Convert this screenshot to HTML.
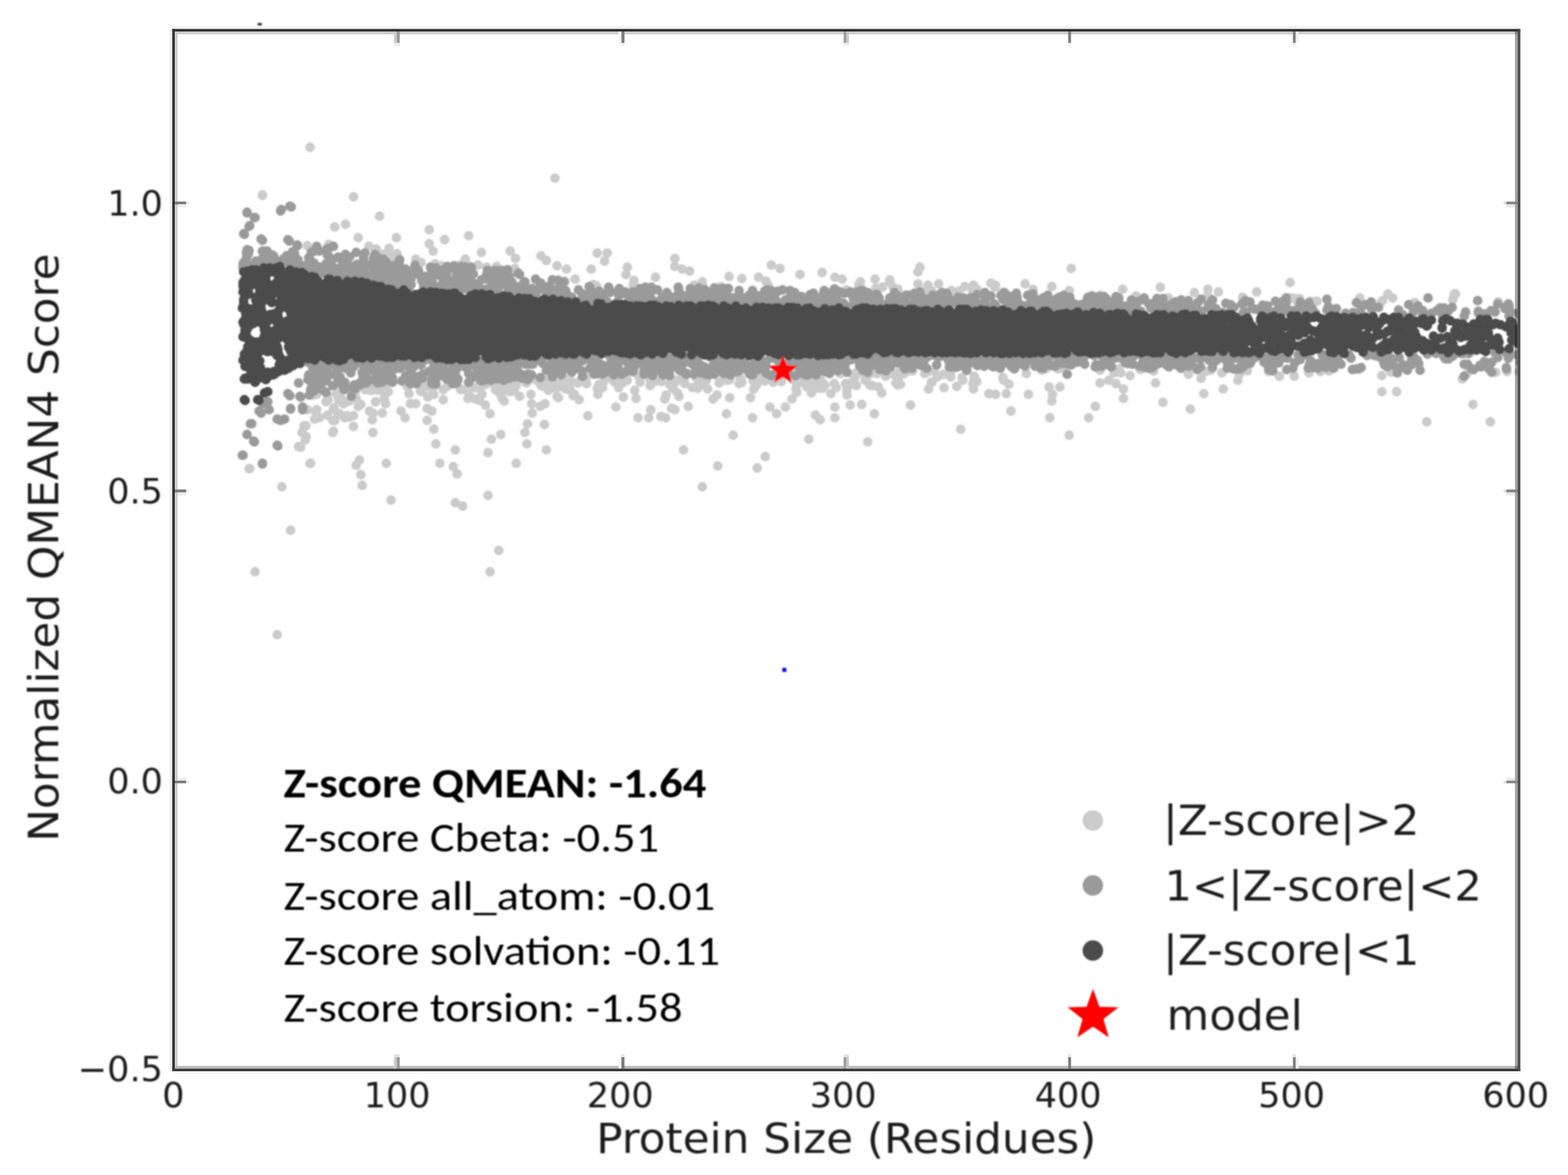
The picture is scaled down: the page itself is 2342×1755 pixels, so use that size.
<!DOCTYPE html>
<html lang="en">
<head>
<meta charset="utf-8">
<title>QMEAN4 score plot</title>
<style>
html,body{margin:0;padding:0;background:#fff;}
body{width:2342px;height:1755px;overflow:hidden;}
svg{display:block;}
</style>
</head>
<body>
<svg width="2342" height="1755" viewBox="0 0 2342 1755" role="img" aria-label="Normalized QMEAN4 score versus protein size">
<rect width="2342" height="1755" fill="#fff"/>
<defs><clipPath id="ax"><rect x="261" y="47" width="2006" height="1549"/></clipPath><filter id="b" filterUnits="userSpaceOnUse" x="0" y="0" width="2342" height="1755"><feGaussianBlur stdDeviation="1.0"/></filter></defs>
<g filter="url(#b)">
<g clip-path="url(#ax)" fill="none" stroke-linecap="round" stroke-width="14.4">
<path stroke="#cbcbcb" d="M459 367h0M459 612h0M468 590h0M470 626h0M473 589h0M477 624h0M487 600h0M489 590h0M489 620h0M490 597h0M491 365h0M503 588h0M505 618h0M506 597h0M507 618h0M508 585h0M508 584h0M510 596h0M511 600h0M513 603h0M515 624h0M515 602h0M521 623h0M521 582h0M522 599h0M528 621h0M530 594h0M532 583h0M532 595h0M535 607h0M546 582h0M551 580h0M551 368h0M553 580h0M552 614h0M553 583h0M556 583h0M557 617h0M561 600h0M562 372h0M564 579h0M565 583h0M566 579h0M570 583h0M572 380h0M574 595h0M575 577h0M576 603h0M576 583h0M580 585h0M581 371h0M585 383h0M593 379h0M599 614h0M607 575h0M609 578h0M611 588h0M613 603h0M621 387h0M621 573h0M621 603h0M628 584h0M629 392h0M630 585h0M634 575h0M637 577h0M639 593h0M638 610h0M643 579h0M645 614h0M647 577h0M648 589h0M650 394h0M659 397h0M662 582h0M662 597h0M668 577h0M687 396h0M688 581h0M688 582h0M695 387h0M697 583h0M698 396h0M698 581h0M699 595h0M701 591h0M701 581h0M709 579h0M710 596h0M713 579h0M712 579h0M714 396h0M716 598h0M720 589h0M723 575h0M725 605h0M727 399h0M728 573h0M740 582h0M741 575h0M742 398h0M744 577h0M744 585h0M748 589h0M750 595h0M753 599h0M754 582h0M759 571h0M762 585h0M765 573h0M767 576h0M768 584h0M769 572h0M769 401h0M771 576h0M776 592h0M786 572h0M793 589h0M799 567h0M803 569h0M806 571h0M807 607h0M808 576h0M812 577h0M814 603h0M818 566h0M819 583h0M819 575h0M820 566h0M824 580h0M827 571h0M832 592h0M833 575h0M834 578h0M834 418h0M834 594h0M839 571h0M843 568h0M843 565h0M844 569h0M844 420h0M845 581h0M852 583h0M854 570h0M856 591h0M859 417h0M858 589h0M863 572h0M865 597h0M868 567h0M869 569h0M876 573h0M877 562h0M886 425h0M891 427h0M892 580h0M893 589h0M895 574h0M896 581h0M900 579h0M901 571h0M908 564h0M913 565h0M917 570h0M917 566h0M919 566h0M924 579h0M927 564h0M930 572h0M931 593h0M937 568h0M946 426h0M947 419h0M948 583h0M950 595h0M954 561h0M954 562h0M956 571h0M956 562h0M956 562h0M972 574h0M971 567h0M971 576h0M972 566h0M975 564h0M978 570h0M988 570h0M993 596h0M995 590h0M1000 574h0M1001 562h0M1005 580h0M1007 573h0M1012 587h0M1012 568h0M1014 592h0M1017 566h0M1022 566h0M1023 573h0M1034 579h0M1037 426h0M1040 564h0M1042 580h0M1043 569h0M1047 575h0M1049 421h0M1050 428h0M1055 568h0M1057 581h0M1065 596h0M1071 590h0M1074 572h0M1075 571h0M1077 428h0M1082 567h0M1086 568h0M1090 567h0M1090 594h0M1104 573h0M1105 563h0M1107 567h0M1108 571h0M1121 594h0M1125 569h0M1126 581h0M1130 575h0M1131 564h0M1134 565h0M1140 564h0M1142 569h0M1142 562h0M1146 567h0M1147 425h0M1155 571h0M1159 568h0M1165 563h0M1167 570h0M1183 596h0M1183 566h0M1186 563h0M1188 567h0M1188 569h0M1189 581h0M1190 574h0M1190 586h0M1201 572h0M1201 565h0M1203 571h0M1202 567h0M1205 578h0M1206 565h0M1208 578h0M1210 565h0M1211 568h0M1211 568h0M1212 587h0M1216 570h0M1218 568h0M1219 561h0M1220 579h0M1222 563h0M1224 580h0M1224 569h0M1225 567h0M1227 569h0M1229 580h0M1232 575h0M1241 588h0M1246 573h0M1247 431h0M1249 579h0M1255 558h0M1264 433h0M1263 573h0M1265 581h0M1265 590h0M1265 583h0M1266 573h0M1275 561h0M1275 574h0M1276 566h0M1277 558h0M1278 561h0M1279 576h0M1283 425h0M1286 430h0M1289 557h0M1292 568h0M1295 562h0M1299 575h0M1300 558h0M1303 576h0M1308 431h0M1310 558h0M1312 578h0M1317 587h0M1318 429h0M1323 562h0M1329 421h0M1334 429h0M1335 559h0M1338 572h0M1339 434h0M1341 575h0M1341 434h0M1341 432h0M1342 568h0M1342 569h0M1344 555h0M1345 574h0M1347 557h0M1351 558h0M1362 554h0M1363 554h0M1381 558h0M1381 435h0M1385 556h0M1386 555h0M1387 581h0M1391 571h0M1391 434h0M1392 571h0M1395 554h0M1400 563h0M1410 579h0M1409 559h0M1420 563h0M1421 554h0M1421 434h0M1429 577h0M1432 435h0M1437 564h0M1438 568h0M1441 428h0M1453 573h0M1453 435h0M1455 566h0M1455 562h0M1459 432h0M1459 570h0M1480 423h0M1498 437h0M1498 564h0M1533 558h0M1543 432h0M1556 553h0M1562 551h0M1579 550h0M1581 551h0M1586 549h0M1597 434h0M1643 553h0M1644 441h0M1664 557h0M1671 551h0M1674 557h0M1688 561h0M1697 442h0M1703 552h0M1723 554h0M1745 445h0M1775 559h0M1800 555h0M1804 442h0M1804 448h0M1808 553h0M1820 436h0M1825 557h0M1851 559h0M1856 444h0M1858 447h0M1863 554h0M1877 436h0M1928 445h0M1934 446h0M1937 450h0M1941 446h0M1955 557h0M1958 450h0M1967 450h0M1972 555h0M1985 554h0M2031 445h0M2063 451h0M2064 561h0M2065 449h0M2078 556h0M2080 445h0M2113 452h0M2170 447h0M2172 439h0M2184 566h0M2191 558h0M2234 556h0M2238 451h0M2251 555h0M2269 555h0M2280 453h0M2281 454h0M463 220h0M829 266h0M392 292h0M528 294h0M567 323h0M500 339h0M516 335h0M641 343h0M700 352h0M592 355h0M664 358h0M535 355h0M719 377h0M762 375h0M808 382h0M892 378h0M641 364h0M647 375h0M770 386h0M816 389h0M832 397h0M846 402h0M883 402h0M372 700h0M463 692h0M421 727h0M434 792h0M381 854h0M414 948h0M537 687h0M532 695h0M539 709h0M541 725h0M577 692h0M584 747h0M657 692h0M651 663h0M680 672h0M677 697h0M683 708h0M680 751h0M691 756h0M729 740h0M729 676h0M734 656h0M748 649h0M771 692h0M787 663h0M816 672h0M813 634h0M784 646h0M788 633h0M795 617h0M794 603h0M732 618h0M878 621h0M745 822h0M732 854h0M648 641h0M638 628h0M605 624h0M556 627h0M557 646h0M571 617h0M528 637h0M518 621h0M498 611h0M500 628h0M498 644h0M471 614h0M457 636h0M451 646h0M456 657h0M446 667h0M539 604h0M505 592h0M920 608h0M953 624h0M969 624h0M972 612h0M987 622h0M994 624h0M1003 610h0M1008 612h0M1028 607h0M1085 618h0M1124 624h0M1150 608h0M1160 618h0M1173 608h0M1218 620h0M1225 627h0M1247 608h0M1247 624h0M1270 605h0M1287 604h0M1306 618h0M1360 605h0M1435 641h0M1095 650h0M1208 656h0M1296 660h0M1021 672h0M1143 682h0M1072 696h0M1131 699h0M1049 727h0M907 378h0M903 390h0M937 399h0M935 410h0M1008 386h0M1008 398h0M1019 402h0M1030 405h0M979 414h0M1152 396h0M1165 401h0M1228 407h0M1374 399h0M1371 406h0M1195 410h0M1108 416h0M1133 414h0M1144 420h0M1247 414h0M1258 417h0M1307 417h0M1285 421h0M1329 418h0M1371 424h0M1386 426h0M1402 424h0M1454 426h0M1486 429h0M1089 413h0M1600 401h0M1927 422h0M1531 424h0M1571 428h0M1487 426h0M1677 432h0M1733 429h0M1804 432h0M1784 437h0M1454 581h0M1477 588h0M1487 589h0M1503 588h0M1536 589h0M1499 568h0M1507 574h0M1567 578h0M1583 578h0M1572 589h0M1571 599h0M1510 614h0M1568 624h0M1636 607h0M1626 624h0M1597 650h0M1643 572h0M1656 568h0M1667 573h0M1678 581h0M1678 595h0M1726 572h0M1737 601h0M1778 611h0M1794 565h0M1798 588h0M1827 581h0M1849 568h0M1895 555h0M1911 562h0M1933 562h0M2073 439h0M2174 439h0M2064 585h0M2086 585h0M2200 604h0M2131 630h0M2226 630h0M392 291h0M373 700h0M464 692h0M449 668h0M457 652h0M454 636h0M473 612h0M499 609h0M497 628h0M497 646h0M507 591h0"/>
<path stroke="#9a9a9a" d="M363 400h0M364 392h0M363 394h0M364 397h0M364 399h0M368 396h0M368 386h0M368 378h0M369 373h0M371 379h0M372 374h0M372 397h0M374 398h0M382 390h0M382 393h0M391 397h0M391 387h0M392 375h0M393 388h0M395 378h0M396 393h0M397 396h0M399 389h0M399 375h0M406 385h0M407 394h0M407 381h0M409 383h0M410 391h0M411 391h0M413 390h0M423 387h0M424 391h0M428 382h0M431 392h0M432 384h0M437 396h0M438 388h0M437 376h0M440 382h0M440 379h0M443 400h0M445 400h0M445 388h0M447 402h0M453 404h0M455 397h0M457 398h0M460 398h0M461 560h0M460 541h0M462 402h0M462 400h0M461 385h0M463 566h0M462 590h0M464 406h0M463 388h0M465 377h0M464 582h0M465 543h0M466 577h0M468 394h0M468 399h0M468 585h0M467 542h0M467 549h0M468 544h0M469 393h0M470 375h0M470 395h0M470 375h0M471 548h0M470 542h0M471 570h0M472 543h0M473 368h0M472 561h0M474 402h0M473 550h0M474 556h0M474 373h0M474 567h0M475 556h0M475 561h0M476 556h0M477 549h0M476 558h0M477 544h0M477 375h0M478 574h0M479 581h0M480 408h0M479 399h0M480 572h0M479 550h0M480 400h0M480 552h0M481 582h0M482 407h0M482 568h0M482 554h0M484 404h0M483 549h0M484 541h0M484 401h0M484 560h0M487 394h0M487 586h0M486 560h0M487 569h0M488 372h0M487 407h0M487 403h0M487 547h0M488 562h0M488 402h0M489 402h0M489 405h0M489 381h0M489 563h0M491 371h0M491 409h0M491 546h0M491 558h0M492 384h0M492 412h0M493 395h0M492 543h0M493 559h0M493 397h0M495 391h0M495 543h0M497 576h0M498 368h0M497 399h0M497 542h0M499 408h0M500 404h0M500 541h0M501 403h0M500 407h0M502 561h0M501 558h0M502 412h0M503 410h0M503 554h0M504 413h0M505 413h0M505 385h0M504 542h0M506 406h0M505 384h0M505 567h0M506 401h0M507 540h0M507 544h0M507 568h0M506 572h0M509 403h0M509 573h0M508 563h0M508 568h0M509 549h0M510 415h0M511 407h0M510 546h0M512 395h0M511 399h0M514 408h0M515 413h0M514 549h0M515 571h0M514 582h0M516 415h0M515 391h0M515 577h0M516 550h0M516 380h0M516 412h0M518 388h0M519 407h0M518 412h0M519 415h0M518 408h0M518 544h0M520 546h0M520 400h0M520 539h0M522 384h0M524 557h0M525 411h0M524 398h0M526 544h0M527 414h0M528 410h0M528 548h0M529 543h0M528 548h0M529 575h0M530 415h0M530 414h0M529 410h0M530 581h0M531 405h0M533 395h0M532 377h0M535 400h0M536 411h0M536 405h0M537 540h0M537 407h0M537 572h0M538 414h0M538 401h0M538 575h0M540 543h0M541 414h0M542 561h0M541 556h0M543 414h0M543 386h0M543 406h0M543 391h0M543 558h0M544 418h0M544 394h0M545 378h0M545 550h0M547 572h0M547 542h0M547 548h0M549 412h0M548 539h0M550 396h0M549 414h0M550 540h0M550 548h0M550 411h0M551 554h0M552 538h0M552 568h0M552 414h0M553 543h0M554 545h0M554 415h0M555 416h0M556 416h0M555 545h0M557 547h0M558 386h0M559 397h0M559 394h0M559 416h0M558 401h0M560 380h0M560 415h0M562 392h0M561 537h0M562 562h0M562 421h0M562 548h0M562 551h0M564 385h0M564 391h0M564 572h0M566 417h0M565 560h0M565 559h0M566 558h0M567 420h0M567 410h0M566 402h0M566 422h0M566 539h0M566 543h0M569 537h0M569 553h0M570 420h0M570 563h0M569 543h0M570 571h0M570 551h0M570 538h0M572 387h0M572 390h0M573 418h0M573 545h0M573 550h0M574 402h0M574 417h0M573 411h0M574 418h0M574 547h0M574 561h0M574 569h0M575 541h0M575 409h0M575 407h0M575 390h0M576 538h0M576 536h0M577 392h0M577 424h0M576 560h0M577 401h0M577 541h0M578 399h0M579 548h0M579 422h0M579 543h0M580 541h0M581 538h0M581 424h0M582 419h0M582 426h0M583 409h0M584 536h0M583 545h0M584 550h0M585 411h0M586 564h0M586 420h0M587 420h0M586 571h0M587 397h0M589 405h0M589 550h0M589 544h0M589 551h0M590 542h0M589 537h0M590 427h0M590 551h0M590 542h0M591 400h0M591 396h0M591 539h0M592 417h0M593 541h0M594 426h0M594 427h0M594 409h0M595 548h0M595 536h0M596 394h0M596 394h0M597 388h0M597 398h0M596 424h0M596 547h0M597 550h0M597 427h0M597 414h0M598 535h0M599 408h0M598 537h0M599 548h0M600 569h0M601 412h0M600 542h0M601 545h0M601 547h0M603 409h0M603 420h0M604 429h0M606 427h0M606 428h0M606 404h0M606 402h0M606 561h0M609 535h0M608 537h0M609 563h0M611 430h0M612 422h0M612 406h0M612 563h0M612 540h0M612 421h0M612 425h0M613 406h0M613 573h0M613 550h0M613 410h0M613 536h0M614 416h0M614 425h0M615 571h0M615 542h0M617 561h0M618 404h0M618 548h0M620 396h0M621 536h0M622 406h0M622 573h0M624 407h0M623 567h0M625 536h0M624 563h0M626 410h0M625 404h0M626 540h0M627 411h0M627 537h0M630 419h0M629 545h0M631 538h0M631 559h0M631 565h0M633 421h0M633 416h0M633 428h0M635 413h0M634 430h0M635 430h0M635 427h0M636 537h0M636 418h0M638 416h0M638 430h0M638 430h0M640 555h0M641 413h0M642 413h0M643 399h0M644 408h0M644 556h0M644 557h0M645 554h0M645 538h0M646 422h0M645 566h0M645 573h0M647 424h0M648 548h0M648 558h0M648 410h0M649 545h0M649 544h0M650 427h0M652 410h0M652 402h0M651 400h0M651 574h0M651 542h0M653 549h0M653 564h0M655 549h0M657 540h0M658 412h0M659 539h0M659 558h0M658 545h0M660 413h0M662 420h0M661 548h0M662 429h0M662 403h0M663 426h0M663 538h0M665 554h0M667 566h0M666 555h0M667 410h0M668 398h0M669 540h0M668 539h0M670 556h0M669 556h0M671 426h0M672 420h0M672 434h0M674 423h0M674 562h0M673 557h0M673 539h0M674 427h0M676 433h0M676 573h0M676 542h0M677 547h0M677 401h0M678 419h0M678 397h0M678 573h0M680 556h0M679 561h0M680 421h0M681 421h0M681 539h0M682 410h0M682 548h0M682 572h0M682 566h0M682 542h0M682 413h0M682 540h0M683 432h0M683 432h0M683 566h0M684 566h0M684 542h0M684 407h0M685 422h0M684 549h0M684 567h0M685 400h0M685 423h0M686 539h0M687 539h0M687 402h0M688 430h0M688 543h0M689 398h0M690 425h0M689 431h0M690 422h0M691 421h0M691 541h0M692 428h0M692 431h0M692 413h0M695 399h0M697 431h0M697 431h0M696 425h0M697 550h0M699 416h0M699 541h0M698 549h0M699 432h0M700 401h0M700 412h0M700 558h0M700 571h0M701 543h0M703 418h0M703 430h0M703 566h0M704 433h0M704 399h0M704 539h0M705 407h0M705 543h0M707 425h0M707 409h0M707 423h0M707 540h0M708 541h0M709 427h0M710 434h0M709 546h0M711 562h0M711 539h0M713 552h0M714 554h0M716 435h0M716 554h0M716 430h0M716 539h0M717 567h0M719 418h0M720 569h0M719 547h0M721 559h0M720 547h0M722 435h0M724 563h0M724 568h0M726 432h0M727 410h0M727 539h0M726 540h0M728 559h0M728 404h0M728 553h0M730 411h0M729 546h0M729 538h0M730 418h0M730 538h0M731 552h0M731 556h0M733 411h0M734 430h0M734 553h0M733 568h0M735 436h0M735 565h0M735 540h0M738 404h0M737 548h0M741 432h0M741 404h0M741 560h0M742 566h0M741 541h0M742 550h0M741 540h0M742 419h0M743 424h0M744 416h0M743 409h0M744 436h0M745 428h0M744 545h0M746 544h0M748 425h0M748 420h0M750 404h0M751 425h0M751 549h0M751 417h0M752 538h0M751 539h0M752 560h0M752 568h0M752 548h0M754 548h0M753 540h0M755 424h0M755 540h0M754 535h0M754 567h0M756 537h0M757 423h0M756 554h0M757 543h0M757 536h0M758 403h0M758 426h0M758 546h0M759 430h0M758 406h0M759 538h0M759 535h0M759 431h0M759 423h0M761 565h0M761 413h0M763 428h0M764 542h0M765 422h0M764 429h0M765 424h0M764 550h0M764 553h0M766 542h0M767 426h0M768 439h0M769 436h0M770 538h0M769 563h0M771 429h0M771 539h0M770 542h0M772 439h0M773 553h0M774 534h0M773 557h0M774 408h0M775 537h0M774 538h0M775 538h0M776 439h0M776 441h0M776 410h0M777 542h0M776 541h0M778 535h0M778 433h0M779 433h0M779 565h0M781 424h0M781 560h0M781 535h0M781 425h0M783 428h0M784 421h0M784 564h0M784 423h0M785 544h0M788 442h0M788 567h0M790 437h0M789 441h0M790 438h0M789 562h0M789 559h0M789 544h0M789 539h0M792 433h0M792 432h0M792 544h0M792 540h0M793 442h0M794 539h0M794 560h0M795 431h0M795 435h0M796 544h0M798 538h0M798 538h0M798 533h0M800 417h0M800 442h0M801 436h0M803 433h0M804 537h0M807 426h0M807 564h0M808 423h0M807 532h0M811 543h0M812 432h0M811 432h0M812 533h0M816 442h0M815 436h0M816 444h0M816 553h0M817 547h0M819 441h0M819 441h0M818 553h0M819 429h0M821 435h0M821 427h0M822 532h0M822 436h0M823 443h0M825 563h0M825 557h0M825 418h0M825 540h0M826 532h0M826 547h0M828 445h0M827 534h0M828 535h0M828 541h0M829 548h0M830 555h0M831 444h0M833 439h0M833 419h0M834 431h0M836 432h0M836 429h0M836 442h0M835 538h0M836 531h0M837 430h0M838 445h0M839 549h0M838 560h0M840 554h0M840 541h0M840 436h0M840 425h0M840 532h0M840 534h0M842 445h0M842 421h0M842 549h0M842 543h0M843 549h0M842 538h0M844 442h0M844 533h0M843 542h0M845 444h0M844 537h0M845 442h0M845 434h0M846 531h0M846 532h0M846 533h0M846 531h0M847 440h0M847 548h0M849 539h0M851 551h0M851 545h0M853 444h0M854 444h0M854 556h0M855 535h0M855 539h0M858 532h0M861 550h0M862 544h0M864 537h0M864 532h0M864 433h0M868 531h0M869 554h0M869 533h0M870 439h0M870 441h0M870 539h0M870 562h0M870 445h0M872 534h0M871 531h0M872 532h0M873 534h0M874 446h0M876 449h0M878 440h0M878 536h0M878 530h0M880 449h0M881 449h0M880 428h0M881 445h0M882 432h0M881 429h0M882 549h0M881 550h0M883 531h0M884 437h0M885 449h0M885 539h0M885 531h0M886 538h0M887 556h0M886 551h0M888 448h0M888 544h0M888 543h0M888 559h0M890 444h0M890 558h0M889 531h0M892 550h0M891 534h0M892 447h0M893 542h0M893 558h0M893 550h0M893 532h0M894 530h0M895 435h0M895 531h0M897 544h0M898 445h0M900 559h0M902 447h0M901 556h0M901 546h0M903 551h0M905 556h0M907 451h0M908 436h0M909 429h0M910 546h0M910 531h0M911 437h0M912 435h0M914 553h0M913 540h0M914 530h0M914 532h0M916 530h0M917 560h0M918 531h0M919 547h0M920 553h0M922 534h0M922 535h0M922 545h0M923 451h0M922 534h0M924 440h0M923 450h0M923 548h0M925 431h0M926 535h0M926 531h0M927 537h0M927 435h0M927 539h0M928 439h0M929 559h0M929 531h0M934 538h0M934 436h0M935 555h0M935 535h0M935 533h0M936 531h0M937 440h0M936 532h0M937 531h0M938 531h0M938 531h0M938 534h0M939 544h0M940 440h0M939 545h0M940 447h0M942 447h0M942 554h0M943 437h0M943 444h0M945 451h0M944 549h0M945 555h0M945 436h0M946 445h0M947 549h0M948 537h0M949 544h0M950 541h0M951 531h0M953 533h0M955 541h0M956 436h0M956 431h0M955 445h0M957 451h0M957 442h0M958 541h0M958 539h0M960 540h0M960 544h0M961 442h0M961 444h0M962 559h0M962 452h0M963 452h0M963 544h0M962 553h0M964 432h0M964 429h0M964 532h0M964 437h0M965 532h0M965 533h0M968 437h0M969 554h0M969 550h0M969 533h0M969 541h0M972 445h0M972 431h0M973 532h0M972 546h0M973 432h0M973 429h0M974 434h0M975 561h0M978 532h0M977 535h0M977 540h0M979 534h0M980 552h0M980 536h0M980 543h0M981 451h0M981 551h0M982 538h0M982 433h0M982 535h0M982 541h0M984 452h0M985 553h0M987 548h0M989 452h0M989 446h0M989 444h0M990 556h0M990 560h0M990 449h0M991 551h0M992 446h0M992 452h0M993 447h0M995 543h0M994 541h0M996 437h0M996 446h0M996 452h0M995 554h0M997 447h0M996 557h0M996 545h0M996 532h0M997 545h0M999 451h0M999 447h0M999 445h0M1000 538h0M999 558h0M1001 444h0M1000 561h0M1000 553h0M1002 543h0M1003 534h0M1006 537h0M1006 452h0M1007 444h0M1007 545h0M1009 532h0M1008 547h0M1009 533h0M1011 450h0M1011 448h0M1012 450h0M1011 447h0M1011 535h0M1013 429h0M1014 548h0M1014 434h0M1015 440h0M1015 553h0M1017 450h0M1019 452h0M1019 554h0M1019 443h0M1020 555h0M1019 545h0M1021 449h0M1023 442h0M1024 534h0M1025 559h0M1026 535h0M1026 558h0M1029 448h0M1028 540h0M1029 540h0M1029 532h0M1031 448h0M1030 453h0M1031 533h0M1031 431h0M1032 449h0M1033 543h0M1034 443h0M1033 435h0M1034 452h0M1035 539h0M1036 559h0M1038 453h0M1037 535h0M1040 438h0M1040 447h0M1039 551h0M1040 437h0M1041 445h0M1040 550h0M1041 533h0M1041 554h0M1042 545h0M1043 532h0M1044 445h0M1044 430h0M1044 441h0M1043 452h0M1043 542h0M1045 434h0M1046 550h0M1047 453h0M1047 550h0M1047 557h0M1047 546h0M1049 438h0M1049 439h0M1050 450h0M1052 439h0M1053 433h0M1052 445h0M1052 548h0M1053 448h0M1054 442h0M1054 559h0M1056 552h0M1056 439h0M1058 444h0M1057 555h0M1059 560h0M1060 452h0M1061 438h0M1060 533h0M1062 444h0M1061 556h0M1065 447h0M1065 546h0M1067 444h0M1067 430h0M1067 559h0M1068 452h0M1068 535h0M1071 452h0M1072 552h0M1073 547h0M1074 432h0M1075 440h0M1075 552h0M1076 452h0M1077 542h0M1078 537h0M1079 555h0M1080 431h0M1081 435h0M1081 558h0M1080 534h0M1082 447h0M1082 447h0M1082 540h0M1084 538h0M1084 540h0M1085 533h0M1086 431h0M1086 548h0M1088 431h0M1089 557h0M1089 533h0M1089 444h0M1089 450h0M1091 450h0M1092 449h0M1092 541h0M1091 560h0M1093 454h0M1094 548h0M1093 551h0M1095 445h0M1095 539h0M1096 554h0M1098 446h0M1098 445h0M1099 542h0M1101 533h0M1103 443h0M1102 555h0M1104 450h0M1104 443h0M1104 552h0M1104 434h0M1104 535h0M1108 451h0M1108 550h0M1108 454h0M1110 548h0M1112 538h0M1111 538h0M1113 445h0M1114 454h0M1113 544h0M1114 549h0M1114 551h0M1116 553h0M1119 448h0M1119 441h0M1120 559h0M1123 452h0M1122 551h0M1124 434h0M1124 560h0M1125 452h0M1124 450h0M1126 543h0M1128 553h0M1128 550h0M1130 540h0M1131 455h0M1132 442h0M1133 535h0M1133 552h0M1134 452h0M1134 450h0M1135 535h0M1136 549h0M1137 448h0M1139 443h0M1139 452h0M1142 435h0M1142 547h0M1142 436h0M1142 552h0M1143 545h0M1144 439h0M1144 547h0M1145 558h0M1146 433h0M1149 536h0M1149 446h0M1151 533h0M1150 560h0M1151 447h0M1152 434h0M1152 561h0M1152 533h0M1154 451h0M1155 448h0M1155 534h0M1157 559h0M1157 452h0M1157 559h0M1158 439h0M1160 450h0M1160 533h0M1160 533h0M1160 537h0M1162 435h0M1161 535h0M1162 550h0M1162 455h0M1163 534h0M1163 533h0M1164 453h0M1165 552h0M1165 545h0M1166 555h0M1167 545h0M1167 557h0M1169 433h0M1173 448h0M1174 455h0M1174 454h0M1175 559h0M1177 453h0M1178 446h0M1178 559h0M1177 560h0M1179 540h0M1178 550h0M1179 446h0M1180 537h0M1180 434h0M1181 534h0M1182 444h0M1183 543h0M1185 538h0M1187 437h0M1186 535h0M1187 455h0M1188 539h0M1188 535h0M1188 445h0M1188 452h0M1189 545h0M1188 561h0M1190 534h0M1192 558h0M1193 538h0M1194 443h0M1195 534h0M1194 549h0M1195 535h0M1197 443h0M1197 443h0M1196 543h0M1197 551h0M1199 456h0M1199 553h0M1199 457h0M1202 456h0M1202 538h0M1202 540h0M1203 560h0M1203 542h0M1204 533h0M1205 533h0M1206 450h0M1207 541h0M1206 549h0M1208 457h0M1208 533h0M1207 560h0M1207 540h0M1208 537h0M1209 537h0M1210 440h0M1209 538h0M1211 450h0M1211 554h0M1212 444h0M1212 536h0M1212 538h0M1211 534h0M1213 550h0M1214 557h0M1215 438h0M1216 447h0M1216 450h0M1216 533h0M1216 449h0M1217 455h0M1218 451h0M1218 452h0M1218 533h0M1218 558h0M1218 537h0M1219 560h0M1219 446h0M1222 457h0M1222 541h0M1222 555h0M1223 533h0M1224 543h0M1225 534h0M1228 536h0M1228 456h0M1229 441h0M1228 534h0M1229 541h0M1230 446h0M1230 456h0M1231 452h0M1230 457h0M1231 434h0M1231 537h0M1232 555h0M1233 451h0M1234 549h0M1236 451h0M1235 533h0M1236 446h0M1237 543h0M1239 554h0M1240 454h0M1239 438h0M1239 546h0M1239 558h0M1240 454h0M1241 542h0M1241 534h0M1243 542h0M1243 535h0M1243 444h0M1243 448h0M1244 443h0M1245 545h0M1246 432h0M1245 532h0M1247 534h0M1246 540h0M1247 436h0M1248 445h0M1249 434h0M1249 443h0M1250 452h0M1251 551h0M1251 534h0M1251 554h0M1253 540h0M1253 457h0M1254 537h0M1255 436h0M1256 452h0M1259 457h0M1258 457h0M1258 456h0M1259 532h0M1258 533h0M1260 453h0M1259 532h0M1261 543h0M1261 438h0M1262 546h0M1262 531h0M1262 537h0M1263 536h0M1264 534h0M1265 536h0M1265 556h0M1268 538h0M1270 436h0M1270 533h0M1272 440h0M1272 457h0M1272 537h0M1275 447h0M1277 448h0M1279 436h0M1280 451h0M1282 533h0M1283 532h0M1284 453h0M1284 547h0M1284 444h0M1285 537h0M1284 543h0M1286 536h0M1286 434h0M1288 436h0M1288 440h0M1289 553h0M1290 435h0M1290 531h0M1290 537h0M1291 452h0M1292 543h0M1293 445h0M1293 541h0M1292 543h0M1293 458h0M1294 540h0M1295 531h0M1295 540h0M1296 437h0M1296 443h0M1296 556h0M1298 541h0M1301 456h0M1300 453h0M1300 442h0M1300 445h0M1301 547h0M1303 537h0M1307 446h0M1308 456h0M1308 440h0M1310 440h0M1311 457h0M1311 530h0M1312 454h0M1312 534h0M1312 444h0M1313 445h0M1314 552h0M1314 458h0M1315 457h0M1314 533h0M1314 543h0M1316 530h0M1320 541h0M1321 543h0M1322 457h0M1323 457h0M1323 554h0M1323 455h0M1323 530h0M1325 551h0M1324 530h0M1324 530h0M1326 457h0M1325 546h0M1326 536h0M1326 550h0M1327 532h0M1328 538h0M1329 445h0M1329 531h0M1330 548h0M1332 539h0M1332 450h0M1332 457h0M1334 444h0M1334 452h0M1334 531h0M1334 457h0M1334 445h0M1336 437h0M1336 532h0M1337 458h0M1337 448h0M1339 533h0M1340 442h0M1339 538h0M1341 452h0M1341 530h0M1342 452h0M1342 538h0M1341 542h0M1343 457h0M1343 457h0M1342 535h0M1345 457h0M1346 533h0M1347 455h0M1348 528h0M1350 533h0M1349 531h0M1351 550h0M1350 533h0M1352 455h0M1351 539h0M1352 445h0M1352 551h0M1353 533h0M1353 538h0M1352 539h0M1353 441h0M1356 537h0M1358 456h0M1358 441h0M1359 545h0M1359 533h0M1362 528h0M1362 442h0M1362 550h0M1362 537h0M1364 458h0M1366 542h0M1365 531h0M1367 450h0M1366 438h0M1368 458h0M1367 538h0M1367 541h0M1368 457h0M1371 457h0M1371 529h0M1372 446h0M1372 544h0M1373 537h0M1374 436h0M1375 456h0M1376 546h0M1377 454h0M1376 529h0M1381 446h0M1380 453h0M1381 537h0M1382 456h0M1383 535h0M1384 449h0M1384 449h0M1383 448h0M1384 550h0M1387 531h0M1388 457h0M1389 448h0M1390 447h0M1389 531h0M1393 441h0M1394 447h0M1395 529h0M1397 454h0M1397 449h0M1396 530h0M1397 529h0M1398 458h0M1397 531h0M1399 545h0M1399 529h0M1400 451h0M1400 458h0M1402 529h0M1403 440h0M1403 533h0M1404 451h0M1404 449h0M1406 532h0M1407 437h0M1408 439h0M1408 451h0M1409 446h0M1410 459h0M1410 443h0M1412 455h0M1412 455h0M1413 529h0M1414 448h0M1414 438h0M1415 457h0M1416 530h0M1416 443h0M1417 539h0M1418 458h0M1418 548h0M1419 547h0M1420 540h0M1420 530h0M1422 449h0M1423 529h0M1423 539h0M1424 548h0M1425 449h0M1428 548h0M1429 529h0M1428 540h0M1430 529h0M1431 444h0M1430 548h0M1431 540h0M1431 448h0M1431 538h0M1432 536h0M1432 455h0M1434 454h0M1433 530h0M1436 546h0M1439 445h0M1440 457h0M1441 459h0M1443 544h0M1444 530h0M1444 543h0M1444 553h0M1444 537h0M1446 455h0M1446 454h0M1446 537h0M1446 536h0M1447 453h0M1448 537h0M1449 445h0M1448 543h0M1449 456h0M1449 458h0M1450 448h0M1450 459h0M1451 538h0M1453 448h0M1455 444h0M1455 534h0M1455 538h0M1455 532h0M1455 530h0M1460 440h0M1459 458h0M1459 544h0M1460 529h0M1461 454h0M1460 546h0M1460 541h0M1461 459h0M1464 541h0M1467 541h0M1469 531h0M1469 458h0M1470 455h0M1470 547h0M1471 437h0M1471 449h0M1472 441h0M1474 539h0M1475 458h0M1475 533h0M1476 458h0M1476 535h0M1480 442h0M1479 442h0M1479 459h0M1480 543h0M1480 530h0M1481 538h0M1482 547h0M1484 459h0M1483 541h0M1484 548h0M1484 529h0M1484 536h0M1485 540h0M1484 535h0M1485 454h0M1486 538h0M1487 545h0M1488 541h0M1488 458h0M1489 529h0M1492 542h0M1494 550h0M1495 441h0M1495 544h0M1495 535h0M1496 545h0M1499 448h0M1498 447h0M1499 447h0M1500 437h0M1501 539h0M1501 530h0M1501 536h0M1501 538h0M1504 442h0M1505 459h0M1506 442h0M1508 450h0M1509 545h0M1510 544h0M1512 457h0M1511 456h0M1511 548h0M1513 450h0M1513 454h0M1513 541h0M1513 549h0M1515 460h0M1514 460h0M1515 536h0M1515 445h0M1515 459h0M1515 551h0M1515 531h0M1518 438h0M1519 444h0M1520 531h0M1521 544h0M1522 530h0M1523 454h0M1528 461h0M1530 535h0M1532 457h0M1531 547h0M1533 458h0M1535 441h0M1535 539h0M1538 454h0M1539 460h0M1540 456h0M1539 459h0M1541 531h0M1540 534h0M1542 531h0M1543 439h0M1544 453h0M1544 531h0M1544 535h0M1545 461h0M1544 454h0M1544 538h0M1545 533h0M1545 453h0M1545 534h0M1546 547h0M1547 460h0M1547 447h0M1548 459h0M1548 531h0M1548 460h0M1549 546h0M1550 461h0M1551 544h0M1552 462h0M1553 549h0M1555 459h0M1556 530h0M1556 455h0M1558 445h0M1558 542h0M1558 550h0M1560 456h0M1561 457h0M1563 454h0M1563 461h0M1563 455h0M1564 461h0M1564 461h0M1564 462h0M1564 530h0M1565 531h0M1565 441h0M1565 539h0M1567 543h0M1568 532h0M1569 459h0M1570 546h0M1570 457h0M1570 449h0M1570 546h0M1571 454h0M1572 530h0M1572 453h0M1572 457h0M1572 462h0M1576 547h0M1578 460h0M1579 461h0M1580 452h0M1579 446h0M1580 542h0M1581 535h0M1581 537h0M1582 444h0M1584 458h0M1583 531h0M1584 448h0M1587 463h0M1587 543h0M1588 463h0M1589 448h0M1588 462h0M1588 462h0M1589 531h0M1589 540h0M1589 441h0M1590 535h0M1593 457h0M1593 536h0M1595 530h0M1594 530h0M1594 530h0M1595 544h0M1594 531h0M1596 451h0M1596 460h0M1596 461h0M1598 444h0M1598 539h0M1598 534h0M1599 463h0M1600 462h0M1600 545h0M1601 463h0M1601 460h0M1601 531h0M1605 455h0M1605 454h0M1606 463h0M1607 532h0M1609 541h0M1613 464h0M1615 455h0M1620 461h0M1619 533h0M1620 544h0M1624 446h0M1625 444h0M1628 455h0M1628 463h0M1629 451h0M1628 457h0M1631 461h0M1631 442h0M1633 462h0M1633 444h0M1634 531h0M1635 451h0M1636 548h0M1637 456h0M1637 545h0M1638 545h0M1639 463h0M1640 545h0M1641 464h0M1642 450h0M1641 443h0M1643 445h0M1642 547h0M1644 461h0M1644 446h0M1644 547h0M1645 531h0M1646 547h0M1647 530h0M1648 448h0M1649 443h0M1651 532h0M1651 531h0M1650 536h0M1652 446h0M1652 460h0M1653 457h0M1654 464h0M1655 459h0M1655 460h0M1655 540h0M1657 458h0M1657 546h0M1657 459h0M1659 457h0M1658 451h0M1659 545h0M1660 548h0M1660 463h0M1665 535h0M1667 464h0M1667 460h0M1667 443h0M1669 450h0M1670 530h0M1671 445h0M1670 464h0M1671 453h0M1672 534h0M1674 459h0M1676 460h0M1675 456h0M1675 459h0M1677 537h0M1679 536h0M1680 464h0M1681 530h0M1681 530h0M1681 542h0M1682 530h0M1684 457h0M1685 543h0M1688 464h0M1687 540h0M1690 541h0M1691 455h0M1690 448h0M1692 464h0M1692 544h0M1692 463h0M1693 532h0M1692 544h0M1694 464h0M1694 530h0M1695 530h0M1695 530h0M1697 459h0M1697 451h0M1698 452h0M1698 465h0M1702 547h0M1704 530h0M1704 465h0M1705 448h0M1707 541h0M1709 445h0M1708 542h0M1710 535h0M1710 549h0M1711 536h0M1711 541h0M1714 530h0M1714 533h0M1715 531h0M1716 454h0M1716 550h0M1718 454h0M1717 535h0M1718 530h0M1719 460h0M1721 549h0M1721 534h0M1722 534h0M1723 453h0M1724 530h0M1724 462h0M1725 454h0M1725 461h0M1726 545h0M1728 446h0M1729 541h0M1731 543h0M1732 447h0M1731 532h0M1731 535h0M1733 537h0M1733 459h0M1736 540h0M1737 446h0M1740 530h0M1741 531h0M1743 457h0M1742 545h0M1744 458h0M1744 530h0M1745 530h0M1746 547h0M1747 541h0M1746 548h0M1746 530h0M1748 536h0M1750 458h0M1749 461h0M1751 530h0M1752 453h0M1751 463h0M1752 530h0M1751 544h0M1756 465h0M1756 451h0M1757 531h0M1759 546h0M1760 460h0M1761 541h0M1761 542h0M1761 463h0M1762 530h0M1761 534h0M1762 533h0M1763 548h0M1763 530h0M1764 459h0M1764 448h0M1764 550h0M1765 549h0M1765 534h0M1767 465h0M1768 534h0M1768 455h0M1768 547h0M1769 543h0M1768 540h0M1770 542h0M1773 453h0M1772 463h0M1773 463h0M1775 466h0M1775 449h0M1775 464h0M1775 465h0M1775 530h0M1777 463h0M1776 547h0M1780 543h0M1781 459h0M1782 464h0M1782 535h0M1784 535h0M1788 552h0M1789 452h0M1792 465h0M1794 447h0M1793 536h0M1793 548h0M1794 530h0M1793 533h0M1795 465h0M1795 530h0M1795 530h0M1806 460h0M1805 456h0M1806 538h0M1807 454h0M1810 467h0M1809 530h0M1810 530h0M1811 448h0M1811 549h0M1814 535h0M1816 461h0M1816 539h0M1817 538h0M1817 465h0M1823 533h0M1826 467h0M1830 537h0M1830 532h0M1831 453h0M1831 535h0M1832 530h0M1833 550h0M1834 531h0M1834 544h0M1838 466h0M1838 455h0M1839 463h0M1839 538h0M1842 551h0M1843 459h0M1847 551h0M1847 533h0M1847 534h0M1849 533h0M1849 532h0M1850 551h0M1853 551h0M1853 538h0M1855 454h0M1857 548h0M1857 467h0M1860 449h0M1860 531h0M1861 466h0M1863 451h0M1864 542h0M1867 537h0M1867 451h0M1867 543h0M1869 539h0M1869 530h0M1871 461h0M1876 462h0M1877 533h0M1881 463h0M1884 461h0M1884 461h0M1886 456h0M1888 541h0M1890 533h0M1891 543h0M1894 468h0M1893 457h0M1893 536h0M1894 464h0M1895 464h0M1895 552h0M1896 468h0M1897 468h0M1897 544h0M1899 535h0M1900 537h0M1899 531h0M1901 554h0M1902 545h0M1905 450h0M1907 464h0M1910 542h0M1910 538h0M1911 465h0M1913 455h0M1914 462h0M1916 450h0M1917 531h0M1918 465h0M1918 531h0M1918 531h0M1918 534h0M1919 529h0M1921 452h0M1923 535h0M1922 552h0M1925 466h0M1928 464h0M1931 550h0M1934 542h0M1939 461h0M1939 530h0M1942 451h0M1943 468h0M1942 537h0M1947 465h0M1946 529h0M1951 530h0M1953 468h0M1953 459h0M1953 458h0M1954 550h0M1956 462h0M1955 452h0M1956 544h0M1958 539h0M1960 469h0M1960 466h0M1960 461h0M1962 549h0M1965 468h0M1969 550h0M1969 543h0M1975 530h0M1975 544h0M1978 530h0M1980 549h0M1982 463h0M1983 532h0M1984 458h0M1984 543h0M1985 462h0M1987 530h0M1987 542h0M1987 546h0M1990 540h0M1991 529h0M1992 550h0M1996 461h0M1996 534h0M1999 531h0M2001 542h0M2003 544h0M2010 469h0M2010 468h0M2011 529h0M2015 530h0M2018 535h0M2020 552h0M2021 467h0M2026 452h0M2026 551h0M2030 551h0M2032 465h0M2032 464h0M2033 549h0M2039 455h0M2042 531h0M2043 530h0M2048 451h0M2047 529h0M2048 460h0M2049 462h0M2049 460h0M2050 529h0M2053 531h0M2059 459h0M2060 533h0M2067 542h0M2068 545h0M2072 548h0M2073 530h0M2079 536h0M2082 546h0M2088 553h0M2089 463h0M2090 534h0M2094 547h0M2095 470h0M2096 545h0M2102 553h0M2104 455h0M2108 545h0M2108 531h0M2108 539h0M2111 466h0M2111 532h0M2117 538h0M2118 457h0M2119 543h0M2121 553h0M2125 464h0M2125 470h0M2126 469h0M2132 529h0M2138 468h0M2145 528h0M2146 464h0M2151 460h0M2156 472h0M2155 472h0M2157 460h0M2157 533h0M2159 536h0M2163 465h0M2164 536h0M2169 459h0M2169 532h0M2170 532h0M2182 528h0M2186 528h0M2187 472h0M2189 466h0M2192 544h0M2193 528h0M2194 528h0M2198 551h0M2201 552h0M2208 467h0M2208 465h0M2210 546h0M2212 548h0M2217 540h0M2218 469h0M2221 547h0M2224 551h0M2224 546h0M2225 545h0M2227 464h0M2228 541h0M2233 466h0M2233 527h0M2237 454h0M2237 534h0M2248 461h0M2248 461h0M2248 459h0M2250 527h0M2250 551h0M2250 549h0M2253 454h0M2253 535h0M2254 457h0M2254 472h0M2255 528h0M2257 466h0M2266 530h0M2268 468h0M2271 541h0M2276 468h0M2277 535h0M2282 473h0M2283 548h0M419 315h0M435 309h0M369 318h0M381 325h0M373 337h0M365 350h0M392 359h0M432 360h0M444 367h0M362 680h0M392 692h0M415 666h0M419 628h0M369 649h0M379 659h0M376 633h0M387 614h0M400 600h0M433 591h0M448 592h0M452 608h0M434 611h0M528 581h0M525 592h0M1594 559h0M2207 449h0M2133 445h0M1982 447h0M1921 445h0M2228 556h0M2187 562h0M2187 544h0M2102 551h0M2087 557h0M369 317h0M380 325h0M372 338h0M364 349h0M390 357h0M420 313h0M433 308h0M430 358h0M444 366h0M393 603h0M402 612h0M390 617h0M374 633h0M414 626h0M425 626h0M369 649h0M380 660h0M414 665h0M363 680h0M392 693h0M430 588h0M449 593h0M452 612h0M434 610h0M446 572h0M460 567h0"/>
<polygon fill="#4c4c4c" stroke="none" points="466,415 478,417 490,419 502,420 514,422 526,423 538,425 550,426 562,429 574,431 586,433 598,436 610,437 622,438 634,440 646,441 658,441 670,441 682,441 694,440 706,441 718,442 730,444 742,445 754,446 766,447 778,448 790,449 802,449 814,450 826,451 838,452 850,453 862,454 874,455 886,456 898,458 910,458 922,458 934,458 946,458 958,459 970,459 982,459 994,459 1006,459 1018,460 1030,460 1042,460 1054,460 1066,461 1078,461 1090,461 1102,461 1114,462 1126,462 1138,462 1150,463 1162,463 1174,463 1186,463 1198,464 1210,464 1222,464 1234,464 1246,464 1258,464 1270,464 1282,464 1294,464 1306,464 1318,464 1330,465 1342,465 1354,465 1366,465 1378,465 1390,465 1402,465 1414,466 1426,466 1438,466 1450,466 1462,466 1474,466 1486,467 1498,467 1510,467 1522,467 1534,468 1546,468 1558,469 1570,469 1582,470 1594,470 1606,470 1618,470 1630,471 1642,471 1654,471 1666,471 1678,472 1690,472 1702,472 1714,472 1726,472 1738,472 1750,473 1750,523 1738,523 1726,523 1714,523 1702,523 1690,523 1678,523 1666,523 1654,523 1642,523 1630,523 1618,523 1606,523 1594,523 1582,523 1570,523 1558,523 1546,523 1534,523 1522,523 1510,523 1498,523 1486,523 1474,523 1462,522 1450,522 1438,522 1426,522 1414,522 1402,522 1390,522 1378,522 1366,521 1354,521 1342,522 1330,522 1318,522 1306,523 1294,523 1282,524 1270,524 1258,524 1246,525 1234,525 1222,526 1210,526 1198,526 1186,526 1174,526 1162,526 1150,526 1138,526 1126,526 1114,526 1102,526 1090,526 1078,525 1066,525 1054,525 1042,525 1030,525 1018,525 1006,525 994,525 982,524 970,524 958,524 946,524 934,524 922,524 910,523 898,523 886,523 874,524 862,524 850,524 838,524 826,525 814,525 802,526 790,526 778,527 766,528 754,529 742,529 730,530 718,531 706,532 694,533 682,532 670,532 658,531 646,531 634,530 622,529 610,528 598,528 586,529 574,529 562,530 550,531 538,532 526,532 514,533 502,534 490,534 478,534 466,534"/>
<path stroke="#4c4c4c" d="M362 460h0M363 436h0M363 422h0M363 481h0M363 538h0M363 427h0M363 503h0M364 406h0M364 455h0M364 430h0M364 483h0M364 447h0M364 451h0M364 484h0M366 435h0M366 434h0M365 529h0M365 419h0M366 493h0M366 434h0M366 547h0M367 477h0M367 415h0M366 433h0M366 532h0M366 495h0M367 483h0M367 527h0M368 432h0M367 467h0M367 489h0M367 474h0M368 419h0M367 483h0M369 503h0M368 414h0M369 405h0M369 492h0M369 431h0M370 566h0M370 523h0M370 489h0M369 548h0M370 520h0M370 528h0M370 423h0M369 416h0M370 408h0M370 434h0M369 432h0M370 518h0M370 528h0M371 482h0M370 428h0M370 529h0M370 506h0M370 440h0M370 440h0M371 461h0M371 465h0M371 542h0M372 481h0M371 422h0M372 487h0M372 546h0M371 465h0M372 429h0M372 439h0M373 475h0M372 406h0M372 416h0M373 531h0M373 482h0M373 420h0M373 527h0M372 547h0M372 423h0M373 479h0M373 417h0M373 409h0M374 525h0M374 560h0M373 415h0M373 526h0M373 422h0M374 516h0M373 426h0M374 469h0M375 551h0M374 473h0M375 509h0M375 516h0M375 551h0M374 464h0M374 484h0M374 478h0M374 534h0M374 565h0M374 518h0M374 539h0M376 484h0M376 520h0M375 484h0M375 564h0M375 411h0M375 524h0M375 531h0M375 535h0M377 467h0M376 511h0M377 515h0M376 403h0M376 414h0M376 562h0M377 552h0M378 479h0M377 525h0M377 474h0M377 525h0M377 536h0M378 557h0M377 511h0M377 513h0M378 537h0M378 416h0M379 543h0M378 545h0M378 543h0M378 556h0M379 478h0M378 465h0M380 511h0M379 523h0M380 465h0M379 461h0M379 558h0M380 562h0M379 483h0M380 404h0M379 478h0M380 542h0M379 527h0M380 526h0M380 479h0M381 553h0M380 512h0M380 413h0M380 525h0M382 563h0M381 418h0M382 448h0M382 403h0M382 546h0M382 465h0M381 551h0M383 412h0M382 529h0M383 467h0M383 520h0M382 467h0M382 425h0M383 524h0M383 444h0M383 470h0M382 404h0M384 474h0M383 544h0M383 521h0M384 564h0M383 475h0M383 524h0M384 453h0M384 524h0M384 553h0M385 471h0M384 412h0M384 453h0M384 527h0M384 446h0M386 477h0M386 549h0M385 511h0M387 526h0M386 426h0M387 549h0M387 457h0M387 468h0M387 421h0M388 539h0M387 416h0M388 435h0M388 466h0M388 452h0M388 414h0M389 475h0M389 549h0M389 473h0M389 448h0M388 472h0M389 405h0M388 407h0M389 417h0M388 455h0M388 460h0M388 444h0M390 454h0M390 559h0M389 427h0M389 467h0M389 479h0M390 555h0M390 414h0M390 443h0M390 422h0M390 554h0M390 461h0M390 478h0M391 483h0M391 442h0M390 434h0M390 410h0M390 414h0M390 564h0M390 449h0M390 554h0M392 522h0M391 465h0M391 476h0M391 475h0M391 555h0M392 517h0M392 558h0M393 424h0M393 556h0M392 516h0M392 519h0M392 479h0M394 400h0M394 481h0M393 558h0M394 505h0M393 416h0M393 445h0M394 504h0M394 510h0M394 513h0M394 508h0M395 404h0M394 421h0M395 444h0M394 430h0M395 492h0M395 520h0M394 557h0M395 433h0M396 561h0M396 509h0M395 447h0M395 408h0M396 472h0M396 515h0M395 489h0M397 478h0M397 410h0M397 489h0M396 483h0M397 414h0M397 418h0M397 436h0M396 401h0M396 497h0M397 558h0M396 418h0M397 403h0M398 473h0M397 478h0M397 557h0M397 434h0M397 422h0M398 409h0M397 512h0M398 426h0M399 433h0M399 494h0M398 477h0M399 501h0M399 503h0M398 437h0M398 560h0M400 556h0M399 513h0M399 495h0M399 525h0M399 498h0M399 564h0M400 525h0M399 522h0M400 448h0M400 424h0M399 480h0M401 401h0M400 509h0M401 496h0M401 513h0M401 479h0M401 430h0M401 434h0M401 445h0M402 495h0M402 432h0M401 448h0M402 500h0M403 400h0M403 442h0M402 504h0M402 498h0M403 502h0M403 470h0M404 433h0M404 475h0M405 440h0M404 444h0M405 447h0M405 522h0M404 434h0M405 559h0M405 500h0M405 443h0M407 525h0M407 525h0M406 406h0M406 452h0M406 559h0M406 433h0M406 471h0M407 428h0M406 452h0M408 522h0M407 434h0M408 521h0M408 495h0M408 469h0M408 505h0M408 475h0M408 432h0M408 524h0M408 560h0M409 403h0M410 523h0M409 555h0M410 497h0M410 436h0M410 502h0M410 494h0M410 559h0M411 496h0M412 503h0M412 423h0M411 401h0M411 471h0M412 515h0M412 478h0M412 475h0M413 494h0M413 523h0M412 434h0M412 471h0M414 522h0M413 400h0M414 518h0M415 522h0M414 409h0M414 402h0M415 471h0M415 501h0M414 482h0M414 437h0M414 476h0M415 499h0M414 531h0M415 434h0M415 434h0M416 414h0M415 524h0M415 506h0M416 555h0M416 410h0M416 476h0M417 413h0M417 478h0M416 531h0M416 486h0M417 453h0M416 464h0M417 503h0M416 529h0M416 401h0M418 403h0M418 553h0M417 545h0M417 500h0M418 421h0M417 480h0M417 531h0M418 410h0M418 398h0M419 552h0M419 408h0M419 453h0M419 537h0M418 434h0M419 538h0M420 487h0M420 443h0M420 429h0M420 456h0M420 447h0M421 498h0M420 487h0M421 538h0M420 403h0M421 424h0M421 540h0M420 416h0M420 550h0M421 436h0M421 543h0M422 538h0M421 549h0M422 488h0M422 551h0M421 545h0M422 452h0M421 537h0M423 449h0M422 417h0M422 542h0M423 503h0M423 440h0M424 425h0M423 493h0M423 502h0M424 550h0M423 458h0M425 420h0M425 450h0M424 487h0M425 549h0M424 456h0M424 483h0M425 492h0M425 551h0M425 442h0M426 497h0M426 413h0M425 553h0M425 421h0M427 408h0M426 458h0M426 497h0M427 542h0M426 482h0M426 551h0M426 486h0M426 459h0M426 502h0M426 437h0M427 417h0M428 541h0M427 549h0M427 539h0M427 440h0M428 480h0M428 481h0M428 503h0M428 506h0M428 486h0M428 408h0M428 501h0M429 499h0M429 419h0M428 494h0M429 507h0M428 436h0M428 415h0M429 490h0M429 452h0M429 438h0M429 434h0M429 485h0M429 489h0M429 452h0M430 491h0M431 518h0M431 419h0M431 411h0M430 426h0M430 423h0M431 493h0M431 449h0M431 443h0M430 455h0M432 461h0M431 414h0M432 433h0M432 548h0M431 550h0M431 452h0M431 426h0M432 539h0M433 481h0M433 460h0M432 443h0M432 520h0M432 461h0M433 442h0M433 503h0M433 544h0M433 487h0M434 487h0M434 512h0M433 458h0M434 438h0M433 537h0M433 422h0M433 428h0M433 403h0M433 501h0M434 509h0M434 497h0M434 419h0M435 420h0M434 524h0M435 407h0M435 464h0M435 470h0M434 466h0M435 433h0M435 519h0M434 404h0M434 434h0M434 511h0M434 449h0M434 516h0M435 475h0M436 431h0M435 451h0M436 534h0M435 511h0M436 418h0M436 520h0M435 461h0M436 503h0M436 436h0M437 419h0M436 416h0M437 429h0M436 532h0M437 438h0M437 453h0M436 500h0M437 478h0M438 438h0M437 465h0M438 411h0M438 432h0M437 445h0M439 506h0M438 513h0M438 546h0M439 456h0M439 423h0M439 535h0M439 511h0M439 425h0M440 527h0M440 476h0M440 507h0M439 523h0M439 481h0M439 422h0M440 495h0M439 454h0M439 431h0M441 428h0M440 420h0M441 495h0M440 477h0M441 520h0M441 512h0M440 426h0M441 526h0M440 459h0M440 419h0M440 419h0M442 499h0M441 465h0M441 519h0M442 534h0M442 426h0M443 513h0M442 406h0M443 479h0M442 485h0M443 445h0M444 511h0M444 530h0M443 503h0M444 511h0M444 419h0M445 518h0M445 514h0M445 533h0M444 506h0M444 454h0M445 484h0M445 412h0M445 433h0M445 541h0M444 499h0M444 494h0M446 427h0M445 476h0M445 428h0M445 536h0M446 499h0M446 538h0M446 440h0M447 421h0M446 474h0M446 456h0M446 466h0M446 542h0M447 461h0M447 486h0M447 462h0M447 526h0M447 472h0M447 531h0M448 543h0M447 442h0M448 461h0M448 487h0M448 515h0M447 535h0M447 453h0M448 543h0M448 523h0M449 483h0M448 450h0M449 518h0M448 466h0M449 410h0M449 506h0M448 462h0M449 490h0M449 501h0M450 505h0M450 408h0M450 426h0M450 491h0M450 490h0M451 507h0M451 455h0M451 407h0M450 493h0M451 424h0M450 538h0M450 428h0M451 456h0M451 415h0M451 461h0M450 477h0M451 449h0M452 440h0M452 427h0M451 442h0M452 526h0M452 500h0M451 507h0M452 517h0M452 427h0M452 442h0M452 424h0M452 420h0M452 444h0M452 519h0M453 484h0M452 439h0M453 443h0M453 530h0M453 413h0M454 457h0M453 421h0M453 522h0M454 450h0M454 486h0M454 510h0M453 524h0M454 424h0M453 416h0M454 474h0M454 522h0M455 410h0M454 523h0M455 457h0M454 485h0M454 410h0M455 457h0M454 431h0M455 443h0M455 492h0M455 515h0M454 524h0M455 487h0M455 462h0M456 500h0M456 470h0M456 456h0M455 518h0M456 426h0M456 494h0M456 478h0M457 436h0M457 448h0M457 534h0M456 413h0M457 523h0M457 524h0M456 479h0M456 420h0M457 483h0M457 438h0M458 445h0M458 429h0M457 436h0M457 427h0M458 425h0M459 433h0M458 497h0M459 438h0M458 434h0M458 490h0M458 451h0M459 516h0M459 423h0M459 509h0M459 426h0M459 485h0M460 522h0M460 426h0M460 449h0M460 514h0M461 536h0M460 425h0M460 505h0M460 425h0M460 459h0M461 501h0M462 427h0M461 492h0M463 531h0M463 504h0M462 477h0M462 476h0M462 520h0M462 463h0M463 484h0M464 500h0M463 426h0M463 462h0M464 480h0M464 534h0M464 467h0M466 420h0M466 458h0M466 413h0M466 469h0M466 416h0M467 504h0M468 532h0M468 496h0M467 441h0M467 473h0M468 437h0M467 531h0M467 511h0M468 457h0M467 420h0M469 417h0M469 529h0M468 429h0M468 536h0M469 497h0M469 451h0M469 514h0M470 477h0M469 508h0M469 493h0M469 454h0M471 433h0M470 538h0M471 491h0M470 455h0M470 414h0M471 443h0M471 535h0M471 449h0M471 433h0M472 455h0M471 527h0M471 478h0M471 511h0M471 464h0M472 492h0M473 505h0M473 443h0M473 445h0M472 510h0M472 475h0M473 534h0M472 485h0M473 504h0M474 450h0M474 493h0M473 486h0M473 531h0M474 489h0M474 492h0M474 445h0M474 508h0M475 420h0M475 482h0M476 521h0M475 439h0M476 463h0M477 505h0M476 433h0M477 430h0M477 517h0M477 496h0M478 527h0M477 427h0M479 471h0M479 439h0M480 436h0M480 524h0M481 473h0M480 443h0M480 460h0M481 530h0M480 455h0M480 505h0M480 505h0M481 483h0M482 469h0M481 507h0M482 498h0M482 484h0M483 519h0M483 488h0M482 458h0M484 482h0M483 444h0M484 504h0M484 473h0M483 490h0M483 528h0M485 534h0M485 506h0M485 504h0M485 457h0M484 514h0M485 472h0M485 448h0M485 507h0M486 518h0M485 469h0M487 491h0M486 509h0M487 461h0M487 508h0M487 485h0M489 509h0M488 486h0M488 526h0M489 450h0M488 438h0M489 468h0M488 477h0M488 471h0M489 492h0M490 417h0M489 445h0M491 491h0M491 440h0M491 436h0M491 475h0M490 425h0M491 538h0M492 522h0M491 522h0M491 519h0M492 530h0M491 425h0M493 483h0M493 501h0M493 532h0M493 528h0M493 440h0M492 498h0M493 503h0M493 417h0M493 428h0M494 418h0M494 462h0M493 438h0M494 431h0M495 445h0M494 443h0M494 522h0M495 468h0M495 471h0M496 477h0M496 499h0M495 493h0M495 433h0M495 464h0M496 421h0M496 534h0M496 444h0M496 455h0M496 464h0M496 444h0M498 468h0M498 526h0M499 516h0M499 508h0M498 526h0M499 489h0M499 454h0M499 454h0M499 430h0M500 481h0M499 427h0M499 421h0M501 482h0M500 474h0M501 454h0M501 513h0M501 434h0M502 483h0M501 507h0M501 527h0M501 449h0M501 482h0M502 489h0M502 451h0M502 517h0M503 535h0M503 538h0M503 490h0M503 444h0M504 419h0M504 536h0M504 508h0M505 502h0M505 443h0M505 462h0M507 469h0M506 500h0M506 469h0M507 433h0M507 447h0M506 428h0M507 471h0M507 523h0M508 467h0M508 466h0M507 525h0M507 539h0M509 521h0M508 431h0M508 492h0M509 506h0M509 520h0M510 426h0M509 482h0M510 456h0M509 440h0M510 527h0M511 488h0M510 496h0M511 505h0M511 458h0M511 444h0M512 475h0M513 537h0M512 454h0M514 449h0M513 445h0M513 481h0M514 458h0M513 428h0M514 446h0M515 459h0M514 462h0M515 438h0M515 442h0M516 431h0M515 529h0M516 496h0M515 478h0M515 523h0M516 428h0M517 435h0M517 504h0M517 464h0M516 510h0M516 469h0M516 459h0M517 475h0M517 505h0M517 512h0M518 421h0M517 488h0M518 476h0M518 501h0M519 473h0M519 420h0M519 527h0M519 507h0M519 486h0M519 528h0M519 448h0M520 426h0M520 515h0M520 483h0M521 530h0M520 476h0M520 494h0M520 469h0M522 486h0M521 514h0M522 422h0M522 473h0M522 474h0M522 463h0M522 478h0M522 474h0M523 435h0M522 524h0M523 460h0M524 485h0M524 506h0M524 527h0M524 463h0M523 432h0M524 512h0M525 527h0M524 474h0M526 425h0M525 507h0M525 459h0M526 446h0M525 503h0M526 462h0M525 463h0M526 452h0M526 503h0M527 455h0M526 527h0M527 426h0M527 471h0M528 523h0M527 485h0M528 502h0M528 497h0M527 490h0M528 443h0M528 478h0M528 528h0M528 444h0M529 446h0M528 504h0M529 431h0M528 434h0M529 522h0M530 525h0M529 470h0M530 492h0M530 483h0M529 448h0M530 511h0M529 468h0M531 522h0M531 504h0M530 491h0M531 446h0M530 420h0M531 503h0M531 499h0M532 471h0M531 447h0M531 425h0M531 521h0M532 423h0M533 534h0M533 518h0M533 424h0M533 449h0M532 434h0M532 489h0M534 448h0M533 529h0M534 508h0M534 515h0M535 519h0M534 506h0M534 449h0M535 426h0M535 490h0M535 497h0M536 458h0M537 434h0M537 468h0M537 461h0M536 450h0M538 454h0M538 534h0M539 437h0M539 489h0M540 421h0M539 509h0M540 486h0M540 520h0M540 442h0M541 522h0M540 437h0M540 481h0M540 494h0M540 436h0M540 436h0M541 514h0M542 529h0M541 533h0M541 424h0M541 513h0M541 485h0M543 490h0M543 514h0M542 535h0M543 509h0M544 452h0M543 509h0M544 469h0M543 440h0M545 500h0M545 429h0M544 479h0M546 508h0M546 450h0M546 464h0M546 440h0M545 501h0M545 517h0M546 440h0M545 499h0M547 493h0M546 500h0M547 517h0M546 500h0M547 453h0M548 508h0M547 436h0M547 487h0M548 519h0M549 485h0M548 503h0M548 426h0M548 423h0M548 487h0M550 434h0M550 510h0M550 437h0M549 501h0M549 435h0M551 432h0M550 476h0M550 465h0M551 430h0M552 452h0M551 474h0M551 463h0M551 507h0M552 480h0M553 449h0M552 441h0M553 434h0M553 501h0M554 469h0M554 480h0M553 430h0M554 490h0M554 459h0M555 531h0M554 516h0M555 502h0M555 452h0M555 535h0M555 479h0M557 522h0M556 432h0M557 454h0M556 505h0M557 474h0M557 447h0M557 463h0M558 458h0M558 433h0M557 512h0M558 426h0M558 529h0M557 445h0M558 449h0M559 429h0M559 510h0M559 468h0M559 460h0M559 429h0M559 489h0M560 464h0M560 531h0M560 524h0M560 466h0M561 464h0M560 515h0M561 479h0M560 510h0M561 517h0M561 509h0M561 492h0M563 471h0M562 482h0M562 458h0M563 505h0M562 462h0M564 522h0M563 436h0M564 517h0M564 465h0M563 524h0M565 428h0M564 455h0M564 436h0M564 468h0M564 476h0M565 478h0M565 530h0M566 448h0M566 512h0M565 520h0M565 438h0M566 476h0M567 497h0M568 467h0M567 481h0M567 491h0M568 458h0M568 516h0M567 532h0M568 428h0M569 483h0M568 432h0M569 490h0M569 428h0M570 464h0M569 494h0M569 456h0M569 428h0M571 494h0M572 473h0M572 490h0M572 484h0M573 497h0M573 521h0M572 471h0M573 527h0M572 442h0M572 454h0M574 501h0M574 454h0M573 521h0M574 479h0M574 497h0M575 438h0M574 533h0M575 524h0M577 484h0M577 482h0M576 500h0M576 497h0M576 501h0M576 480h0M577 447h0M576 502h0M576 526h0M578 473h0M578 496h0M578 534h0M578 501h0M578 488h0M578 506h0M580 511h0M580 502h0M581 474h0M580 432h0M581 519h0M581 487h0M581 473h0M581 477h0M582 531h0M582 469h0M582 533h0M583 487h0M583 455h0M583 445h0M584 533h0M583 493h0M583 506h0M583 464h0M584 489h0M584 441h0M584 465h0M585 433h0M584 467h0M584 514h0M585 493h0M585 478h0M586 534h0M586 458h0M586 501h0M586 532h0M585 481h0M586 517h0M587 475h0M587 470h0M587 529h0M587 466h0M586 515h0M586 435h0M587 441h0M587 476h0M588 489h0M589 449h0M589 530h0M590 451h0M591 464h0M590 532h0M590 505h0M590 439h0M591 488h0M591 450h0M592 444h0M592 506h0M592 521h0M592 505h0M592 498h0M593 505h0M593 462h0M593 504h0M592 499h0M593 492h0M594 524h0M595 525h0M594 521h0M595 475h0M596 515h0M595 438h0M595 441h0M596 500h0M595 451h0M597 459h0M596 478h0M597 515h0M597 464h0M596 500h0M596 527h0M597 492h0M597 440h0M598 493h0M598 516h0M598 445h0M599 508h0M598 526h0M599 454h0M599 480h0M600 489h0M600 477h0M600 531h0M600 475h0M599 458h0M600 532h0M600 516h0M600 471h0M601 521h0M601 508h0M600 524h0M601 459h0M602 475h0M603 506h0M602 508h0M602 499h0M603 433h0M602 504h0M603 482h0M603 490h0M603 531h0M604 484h0M604 455h0M604 509h0M604 517h0M603 522h0M604 511h0M605 522h0M605 532h0M604 472h0M605 469h0M604 504h0M604 456h0M606 528h0M606 467h0M606 455h0M606 443h0M607 511h0M607 488h0M606 508h0M606 521h0M606 514h0M608 438h0M608 490h0M607 497h0M608 496h0M609 483h0M608 494h0M608 488h0M609 480h0M609 487h0M610 529h0M610 501h0M611 458h0M611 466h0M611 446h0M612 467h0M611 495h0M612 527h0M612 457h0M612 525h0M613 496h0M612 520h0M613 530h0M612 486h0M612 478h0M613 454h0M613 496h0M613 469h0M613 484h0M614 462h0M615 511h0M614 508h0M615 470h0M614 475h0M615 481h0M615 469h0M615 454h0M615 457h0M617 463h0M616 480h0M616 487h0M617 476h0M617 464h0M617 464h0M616 453h0M616 485h0M616 505h0M618 459h0M617 488h0M618 499h0M618 520h0M619 516h0M619 461h0M620 466h0M619 502h0M619 534h0M620 508h0M620 475h0M619 486h0M619 497h0M621 470h0M621 440h0M621 476h0M622 533h0M622 450h0M622 510h0M623 496h0M622 493h0M622 481h0M623 483h0M624 490h0M624 494h0M624 454h0M624 492h0M625 485h0M625 521h0M624 510h0M625 441h0M625 492h0M624 524h0M625 491h0M626 531h0M626 442h0M626 489h0M626 471h0M626 530h0M626 514h0M627 482h0M628 449h0M627 439h0M629 517h0M628 476h0M629 497h0M629 448h0M629 513h0M629 524h0M629 506h0M630 456h0M630 441h0M631 487h0M631 522h0M630 486h0M630 534h0M630 516h0M630 505h0M631 473h0M631 521h0M631 470h0M632 436h0M632 463h0M633 459h0M634 468h0M633 441h0M634 444h0M635 510h0M634 507h0M635 525h0M635 439h0M634 456h0M634 518h0M634 457h0M636 465h0M635 469h0M635 526h0M637 510h0M636 465h0M636 442h0M637 496h0M638 451h0M638 447h0M637 444h0M637 524h0M637 468h0M638 486h0M639 496h0M639 530h0M639 440h0M638 481h0M640 483h0M640 521h0M639 530h0M640 501h0M641 513h0M642 496h0M642 457h0M642 492h0M643 445h0M642 519h0M643 441h0M643 436h0M643 499h0M644 457h0M644 519h0M643 512h0M643 529h0M644 510h0M644 485h0M644 451h0M645 494h0M644 462h0M645 514h0M645 513h0M644 512h0M645 451h0M644 494h0M645 528h0M645 512h0M646 502h0M646 478h0M647 439h0M646 439h0M647 529h0M646 482h0M647 504h0M647 531h0M648 460h0M649 478h0M648 491h0M648 492h0M649 489h0M649 506h0M649 483h0M651 500h0M650 437h0M650 481h0M652 460h0M652 513h0M651 524h0M652 440h0M652 535h0M653 463h0M652 437h0M652 482h0M653 532h0M654 488h0M653 438h0M655 441h0M654 475h0M655 452h0M654 439h0M655 470h0M654 491h0M655 487h0M654 520h0M656 482h0M655 521h0M657 465h0M658 484h0M658 489h0M659 456h0M659 512h0M658 495h0M658 459h0M659 479h0M659 488h0M659 492h0M660 440h0M660 482h0M660 505h0M659 457h0M660 447h0M660 503h0M660 535h0M660 524h0M660 438h0M661 450h0M661 506h0M663 484h0M662 510h0M664 513h0M664 508h0M664 523h0M663 463h0M663 509h0M663 497h0M664 459h0M664 449h0M665 447h0M665 522h0M665 503h0M664 508h0M665 439h0M664 466h0M665 446h0M666 457h0M665 493h0M666 465h0M666 505h0M666 461h0M666 512h0M667 445h0M666 516h0M667 518h0M668 461h0M667 442h0M667 503h0M668 529h0M667 513h0M668 537h0M668 462h0M668 457h0M670 481h0M669 508h0M669 501h0M669 448h0M670 470h0M671 529h0M670 536h0M670 450h0M672 521h0M672 535h0M671 505h0M672 439h0M672 507h0M673 501h0M674 465h0M673 453h0M674 483h0M674 480h0M674 510h0M674 514h0M675 537h0M675 500h0M676 528h0M675 443h0M675 439h0M676 470h0M676 470h0M675 502h0M675 439h0M676 534h0M676 493h0M677 480h0M676 508h0M677 485h0M677 461h0M678 438h0M678 515h0M677 448h0M678 475h0M678 472h0M678 462h0M678 521h0M677 452h0M678 489h0M679 470h0M678 520h0M679 438h0M678 501h0M680 438h0M679 439h0M679 441h0M679 517h0M679 460h0M680 520h0M679 498h0M680 523h0M680 467h0M679 533h0M680 517h0M681 530h0M681 450h0M682 531h0M681 442h0M683 494h0M682 442h0M682 534h0M684 516h0M684 467h0M684 524h0M684 512h0M683 447h0M684 533h0M684 475h0M684 472h0M684 459h0M684 507h0M685 518h0M684 479h0M685 511h0M686 513h0M685 475h0M686 530h0M686 459h0M686 471h0M686 529h0M686 443h0M688 463h0M687 495h0M688 537h0M687 498h0M688 450h0M688 468h0M689 495h0M688 453h0M689 473h0M689 487h0M690 455h0M690 469h0M690 457h0M690 517h0M690 523h0M689 521h0M690 496h0M690 523h0M691 487h0M691 461h0M691 499h0M691 472h0M693 487h0M692 503h0M693 512h0M693 520h0M694 533h0M694 468h0M694 485h0M694 537h0M695 500h0M696 520h0M697 486h0M697 492h0M697 481h0M698 460h0M697 516h0M697 456h0M697 483h0M698 502h0M698 449h0M698 510h0M699 456h0M699 525h0M700 464h0M699 502h0M699 525h0M699 492h0M699 502h0M699 498h0M701 485h0M701 456h0M700 537h0M701 446h0M701 481h0M701 530h0M703 510h0M703 442h0M702 509h0M704 442h0M704 511h0M703 502h0M704 504h0M704 522h0M704 476h0M705 507h0M705 466h0M706 443h0M706 443h0M706 508h0M706 441h0M708 517h0M708 467h0M707 497h0M709 494h0M709 532h0M708 444h0M708 496h0M709 483h0M708 508h0M709 469h0M710 442h0M709 498h0M709 486h0M711 483h0M710 439h0M710 534h0M711 469h0M711 452h0M711 486h0M711 487h0M711 514h0M712 494h0M712 498h0M712 505h0M713 474h0M714 514h0M714 524h0M713 443h0M714 512h0M715 447h0M715 514h0M716 507h0M715 511h0M716 456h0M717 511h0M716 509h0M716 440h0M717 475h0M717 441h0M718 476h0M717 514h0M718 440h0M718 452h0M719 476h0M718 479h0M719 440h0M719 440h0M719 446h0M719 491h0M721 514h0M720 439h0M720 463h0M722 448h0M721 484h0M722 457h0M721 480h0M722 499h0M722 489h0M724 520h0M724 507h0M723 476h0M724 498h0M724 460h0M725 501h0M725 506h0M726 449h0M725 514h0M726 513h0M726 499h0M726 533h0M726 508h0M726 453h0M726 503h0M727 478h0M727 448h0M727 459h0M728 441h0M727 532h0M728 450h0M728 454h0M728 493h0M728 515h0M729 461h0M728 516h0M728 520h0M730 480h0M730 445h0M730 466h0M729 497h0M729 536h0M730 464h0M730 449h0M731 474h0M730 444h0M732 493h0M731 507h0M732 486h0M733 457h0M733 483h0M732 440h0M733 462h0M733 525h0M733 463h0M733 531h0M734 496h0M734 515h0M735 489h0M735 488h0M734 534h0M736 512h0M737 488h0M736 507h0M737 518h0M738 482h0M740 528h0M740 488h0M740 478h0M740 517h0M741 527h0M740 465h0M741 532h0M742 474h0M741 508h0M742 511h0M743 476h0M743 512h0M742 523h0M742 488h0M744 520h0M743 445h0M743 531h0M744 513h0M744 526h0M745 508h0M744 485h0M745 535h0M745 479h0M745 449h0M745 499h0M745 495h0M746 456h0M747 498h0M746 520h0M748 511h0M748 444h0M747 475h0M748 482h0M747 514h0M749 469h0M748 452h0M749 496h0M750 471h0M749 493h0M750 520h0M751 479h0M750 502h0M751 531h0M751 480h0M751 517h0M752 456h0M752 467h0M752 526h0M752 527h0M753 492h0M752 521h0M752 471h0M752 502h0M752 520h0M752 459h0M754 475h0M754 515h0M753 502h0M753 442h0M753 528h0M755 443h0M754 525h0M754 477h0M755 514h0M755 465h0M756 490h0M757 464h0M756 481h0M756 511h0M756 469h0M757 534h0M756 474h0M758 520h0M758 512h0M757 459h0M758 487h0M759 472h0M759 531h0M760 443h0M760 446h0M762 529h0M762 445h0M762 471h0M762 510h0M761 524h0M763 494h0M763 499h0M762 449h0M763 528h0M764 478h0M764 487h0M764 533h0M765 526h0M765 517h0M765 478h0M765 492h0M765 532h0M766 484h0M767 451h0M767 520h0M768 531h0M768 524h0M769 455h0M769 480h0M769 499h0M771 455h0M770 498h0M770 521h0M770 507h0M771 526h0M771 492h0M771 473h0M770 501h0M772 502h0M772 495h0M771 476h0M772 471h0M772 500h0M773 463h0M773 529h0M773 475h0M773 530h0M774 498h0M773 513h0M774 501h0M775 506h0M775 445h0M774 470h0M775 453h0M775 490h0M776 522h0M777 499h0M777 526h0M777 480h0M777 516h0M778 462h0M777 526h0M778 479h0M780 461h0M779 470h0M780 515h0M781 512h0M780 472h0M780 497h0M780 481h0M780 483h0M782 454h0M781 463h0M782 501h0M782 530h0M781 449h0M781 508h0M781 502h0M782 506h0M783 458h0M783 458h0M784 476h0M785 530h0M785 502h0M785 518h0M784 446h0M784 526h0M786 480h0M787 449h0M786 505h0M787 523h0M786 528h0M786 451h0M787 486h0M787 511h0M788 521h0M788 483h0M788 523h0M788 528h0M787 484h0M789 519h0M788 519h0M788 461h0M790 525h0M791 531h0M790 494h0M790 498h0M790 488h0M791 452h0M792 515h0M791 449h0M791 450h0M791 446h0M792 499h0M792 473h0M792 532h0M794 455h0M794 463h0M793 449h0M793 462h0M794 520h0M794 475h0M796 450h0M795 489h0M795 450h0M795 498h0M796 497h0M796 468h0M797 477h0M798 490h0M797 475h0M798 495h0M798 528h0M799 450h0M798 455h0M799 532h0M800 459h0M800 520h0M799 483h0M800 505h0M800 481h0M800 502h0M801 515h0M802 513h0M802 453h0M801 530h0M802 500h0M802 510h0M802 469h0M802 455h0M803 489h0M803 463h0M803 522h0M804 514h0M804 524h0M804 502h0M806 487h0M806 479h0M806 472h0M806 494h0M806 509h0M806 479h0M806 490h0M806 473h0M807 509h0M809 502h0M808 461h0M808 460h0M810 525h0M809 458h0M810 514h0M810 463h0M811 511h0M811 448h0M810 470h0M812 491h0M812 494h0M813 517h0M814 448h0M814 448h0M815 527h0M814 447h0M814 452h0M815 480h0M816 467h0M815 510h0M815 506h0M816 529h0M817 493h0M816 507h0M816 458h0M818 491h0M817 521h0M817 456h0M818 529h0M818 484h0M818 518h0M819 487h0M820 530h0M819 474h0M820 475h0M820 458h0M821 462h0M822 489h0M821 474h0M822 518h0M822 486h0M822 497h0M822 522h0M824 452h0M823 484h0M824 498h0M823 489h0M823 483h0M825 472h0M824 523h0M825 465h0M825 489h0M825 472h0M825 524h0M826 484h0M826 505h0M826 447h0M828 453h0M828 525h0M827 520h0M828 516h0M829 510h0M828 497h0M828 525h0M828 464h0M828 485h0M829 467h0M829 497h0M830 480h0M830 464h0M829 490h0M830 464h0M830 498h0M830 457h0M830 485h0M830 515h0M830 529h0M832 456h0M832 505h0M831 480h0M832 507h0M831 521h0M832 509h0M833 489h0M833 523h0M832 506h0M834 498h0M833 513h0M834 489h0M835 450h0M834 452h0M836 509h0M835 476h0M836 490h0M837 468h0M838 456h0M838 472h0M837 480h0M838 449h0M838 459h0M838 517h0M838 451h0M839 527h0M840 473h0M839 506h0M839 458h0M840 507h0M841 507h0M840 451h0M842 514h0M842 467h0M844 454h0M843 456h0M844 509h0M844 528h0M844 493h0M844 527h0M844 523h0M845 458h0M845 524h0M845 467h0M845 453h0M846 469h0M846 484h0M846 456h0M845 493h0M846 500h0M845 529h0M847 456h0M847 516h0M846 479h0M848 485h0M848 461h0M848 489h0M847 512h0M849 495h0M849 470h0M848 512h0M848 451h0M848 464h0M849 457h0M850 524h0M849 503h0M850 508h0M850 452h0M851 524h0M850 492h0M852 481h0M851 492h0M851 471h0M851 477h0M852 468h0M854 516h0M854 469h0M854 528h0M855 478h0M854 463h0M855 491h0M856 483h0M855 505h0M856 492h0M856 487h0M856 471h0M857 510h0M856 477h0M857 464h0M856 529h0M857 480h0M858 477h0M858 524h0M857 480h0M857 495h0M857 523h0M858 523h0M859 470h0M858 506h0M859 468h0M858 529h0M858 493h0M859 503h0M859 504h0M858 463h0M859 456h0M860 451h0M859 456h0M859 465h0M861 473h0M860 479h0M861 517h0M860 480h0M861 488h0M862 474h0M861 483h0M861 513h0M861 459h0M862 514h0M863 465h0M863 493h0M864 512h0M864 523h0M866 462h0M865 523h0M865 514h0M867 504h0M867 460h0M867 469h0M867 509h0M867 499h0M868 514h0M868 514h0M869 469h0M869 478h0M869 464h0M870 463h0M870 526h0M871 524h0M870 501h0M871 482h0M871 463h0M871 461h0M871 497h0M872 527h0M872 484h0M872 457h0M873 477h0M873 464h0M873 497h0M874 490h0M876 495h0M876 529h0M875 456h0M876 470h0M876 506h0M877 497h0M878 472h0M878 496h0M878 482h0M879 511h0M879 500h0M879 501h0M878 466h0M879 483h0M880 515h0M880 498h0M880 465h0M880 469h0M880 507h0M880 486h0M881 466h0M881 510h0M880 517h0M881 509h0M882 496h0M883 495h0M883 513h0M882 464h0M883 506h0M882 492h0M884 463h0M885 485h0M885 486h0M884 504h0M885 485h0M886 509h0M886 506h0M887 482h0M887 523h0M887 519h0M889 507h0M889 506h0M889 517h0M889 519h0M890 524h0M890 509h0M891 492h0M891 496h0M891 461h0M891 507h0M892 519h0M893 505h0M893 523h0M892 463h0M893 453h0M893 486h0M894 468h0M894 508h0M894 458h0M895 501h0M895 487h0M896 521h0M895 454h0M896 466h0M897 460h0M897 510h0M898 495h0M898 521h0M898 454h0M899 490h0M898 519h0M898 497h0M899 528h0M899 464h0M900 513h0M900 465h0M900 504h0M901 467h0M902 491h0M904 477h0M905 499h0M904 517h0M907 510h0M906 470h0M906 517h0M907 470h0M907 503h0M907 497h0M907 511h0M907 493h0M907 499h0M907 507h0M907 511h0M908 508h0M909 525h0M909 459h0M910 486h0M909 514h0M910 513h0M911 496h0M911 507h0M912 469h0M912 481h0M913 506h0M914 484h0M913 487h0M913 479h0M914 465h0M914 465h0M915 488h0M915 463h0M915 490h0M915 485h0M917 516h0M916 471h0M917 521h0M916 457h0M918 489h0M918 502h0M918 455h0M920 483h0M920 456h0M919 524h0M920 466h0M919 504h0M921 514h0M920 519h0M921 492h0M921 495h0M921 507h0M921 463h0M921 474h0M922 478h0M924 462h0M923 458h0M923 455h0M925 521h0M925 497h0M925 470h0M925 463h0M925 490h0M926 474h0M926 526h0M925 520h0M926 503h0M926 470h0M926 526h0M926 511h0M926 481h0M928 518h0M928 517h0M928 527h0M928 486h0M929 463h0M928 460h0M929 518h0M929 470h0M930 527h0M930 455h0M930 482h0M930 516h0M931 491h0M931 489h0M930 502h0M931 517h0M932 467h0M932 458h0M932 468h0M933 455h0M933 507h0M933 516h0M932 525h0M933 523h0M933 500h0M933 494h0M934 480h0M933 517h0M934 460h0M934 469h0M934 501h0M934 499h0M935 491h0M936 513h0M936 492h0M936 518h0M936 478h0M936 465h0M936 491h0M937 506h0M937 491h0M937 505h0M938 495h0M937 528h0M938 514h0M938 497h0M940 506h0M939 528h0M939 524h0M940 515h0M941 457h0M941 529h0M941 489h0M942 519h0M943 525h0M943 465h0M944 483h0M944 527h0M944 522h0M945 499h0M945 475h0M945 476h0M946 468h0M946 468h0M948 488h0M948 511h0M947 506h0M948 499h0M948 509h0M949 474h0M948 477h0M948 496h0M950 457h0M950 503h0M950 527h0M951 489h0M952 498h0M952 487h0M954 498h0M955 491h0M954 506h0M956 458h0M956 500h0M957 471h0M956 465h0M957 457h0M957 521h0M956 461h0M957 530h0M957 470h0M958 479h0M959 492h0M960 504h0M959 522h0M959 504h0M960 527h0M961 513h0M961 508h0M961 498h0M961 469h0M961 460h0M962 474h0M962 504h0M962 492h0M963 478h0M962 489h0M962 519h0M962 466h0M963 504h0M963 524h0M962 518h0M962 522h0M964 458h0M963 496h0M964 526h0M964 483h0M964 509h0M963 527h0M963 462h0M964 480h0M964 461h0M964 506h0M965 501h0M966 523h0M965 492h0M967 497h0M967 507h0M966 467h0M967 484h0M966 488h0M968 476h0M967 462h0M968 519h0M969 516h0M968 504h0M969 520h0M969 518h0M970 497h0M970 480h0M971 492h0M971 516h0M970 508h0M970 479h0M970 511h0M970 484h0M971 499h0M971 456h0M971 457h0M972 506h0M971 498h0M971 497h0M972 518h0M973 500h0M973 474h0M974 529h0M973 480h0M973 456h0M973 462h0M976 486h0M976 483h0M976 490h0M976 460h0M977 468h0M977 465h0M977 524h0M977 515h0M977 479h0M978 510h0M977 480h0M978 478h0M977 486h0M978 456h0M979 486h0M978 460h0M978 466h0M979 467h0M981 465h0M981 458h0M981 484h0M981 506h0M983 507h0M983 474h0M983 519h0M983 483h0M983 484h0M982 470h0M984 504h0M984 502h0M984 508h0M983 470h0M983 458h0M983 525h0M985 490h0M985 518h0M985 478h0M985 461h0M987 521h0M987 478h0M988 515h0M987 492h0M987 501h0M988 501h0M988 465h0M989 525h0M989 465h0M990 502h0M990 528h0M990 490h0M991 496h0M991 515h0M991 487h0M992 508h0M991 503h0M992 466h0M993 500h0M993 460h0M993 459h0M994 503h0M994 465h0M994 460h0M995 457h0M996 487h0M996 468h0M997 475h0M996 488h0M997 477h0M997 482h0M996 520h0M997 470h0M999 509h0M998 494h0M998 499h0M998 506h0M999 464h0M998 494h0M1000 520h0M1000 502h0M1001 490h0M1002 458h0M1003 465h0M1002 497h0M1002 518h0M1004 484h0M1004 494h0M1004 504h0M1004 462h0M1005 485h0M1005 502h0M1005 476h0M1005 518h0M1005 460h0M1004 488h0M1006 496h0M1006 505h0M1007 506h0M1007 500h0M1007 471h0M1007 473h0M1007 502h0M1007 483h0M1008 485h0M1009 524h0M1008 484h0M1008 502h0M1008 523h0M1009 504h0M1009 521h0M1009 481h0M1010 471h0M1010 498h0M1010 526h0M1010 470h0M1010 516h0M1012 493h0M1011 471h0M1012 516h0M1012 519h0M1012 498h0M1012 472h0M1012 516h0M1014 456h0M1013 524h0M1014 522h0M1014 513h0M1014 506h0M1016 491h0M1016 528h0M1016 475h0M1017 507h0M1018 506h0M1017 481h0M1018 529h0M1018 459h0M1019 460h0M1019 518h0M1018 471h0M1018 469h0M1020 486h0M1021 472h0M1023 511h0M1022 462h0M1024 495h0M1024 501h0M1025 490h0M1025 467h0M1025 477h0M1025 511h0M1025 496h0M1026 472h0M1025 457h0M1027 507h0M1027 470h0M1029 494h0M1029 518h0M1028 497h0M1029 484h0M1030 476h0M1029 464h0M1029 505h0M1031 514h0M1031 465h0M1031 457h0M1033 530h0M1033 501h0M1033 458h0M1033 509h0M1032 459h0M1033 488h0M1033 464h0M1035 522h0M1035 513h0M1034 500h0M1036 524h0M1035 485h0M1037 467h0M1036 483h0M1037 490h0M1038 466h0M1038 484h0M1037 514h0M1037 502h0M1039 476h0M1039 518h0M1039 494h0M1038 483h0M1039 500h0M1039 522h0M1039 470h0M1039 473h0M1040 493h0M1039 516h0M1040 479h0M1039 472h0M1040 494h0M1040 475h0M1040 463h0M1040 500h0M1040 503h0M1040 497h0M1041 462h0M1043 481h0M1043 506h0M1043 513h0M1043 497h0M1042 493h0M1043 474h0M1043 489h0M1045 491h0M1045 505h0M1045 475h0M1046 475h0M1045 526h0M1046 457h0M1045 511h0M1046 475h0M1047 481h0M1047 482h0M1046 476h0M1046 515h0M1048 528h0M1048 506h0M1047 504h0M1047 470h0M1047 481h0M1048 526h0M1050 457h0M1049 480h0M1050 492h0M1050 482h0M1051 458h0M1050 525h0M1050 499h0M1050 465h0M1052 530h0M1053 509h0M1053 491h0M1053 516h0M1054 481h0M1054 517h0M1054 482h0M1054 509h0M1055 523h0M1055 498h0M1055 459h0M1055 513h0M1055 491h0M1055 488h0M1054 476h0M1055 495h0M1055 530h0M1055 497h0M1057 474h0M1057 513h0M1057 491h0M1058 487h0M1058 499h0M1057 477h0M1058 456h0M1059 474h0M1059 498h0M1060 531h0M1059 529h0M1061 519h0M1061 485h0M1060 471h0M1061 514h0M1062 520h0M1062 484h0M1062 511h0M1063 500h0M1062 484h0M1064 513h0M1064 483h0M1064 466h0M1064 472h0M1065 467h0M1065 457h0M1065 530h0M1064 515h0M1065 474h0M1065 468h0M1065 476h0M1066 495h0M1066 489h0M1067 490h0M1068 492h0M1068 524h0M1068 492h0M1067 490h0M1067 523h0M1068 459h0M1068 517h0M1068 464h0M1069 500h0M1069 464h0M1069 514h0M1070 465h0M1071 516h0M1071 515h0M1071 463h0M1071 490h0M1073 468h0M1073 511h0M1073 489h0M1074 507h0M1075 501h0M1076 472h0M1078 491h0M1078 493h0M1079 477h0M1079 486h0M1079 486h0M1080 528h0M1080 478h0M1082 527h0M1081 457h0M1081 470h0M1083 508h0M1083 512h0M1082 459h0M1084 471h0M1083 479h0M1083 482h0M1083 472h0M1085 474h0M1085 466h0M1085 530h0M1087 502h0M1087 477h0M1087 476h0M1087 460h0M1088 471h0M1087 524h0M1087 477h0M1088 471h0M1088 473h0M1088 496h0M1090 498h0M1091 519h0M1090 509h0M1092 528h0M1092 501h0M1093 480h0M1092 526h0M1093 525h0M1093 471h0M1093 498h0M1095 503h0M1095 487h0M1094 516h0M1096 494h0M1095 491h0M1096 496h0M1096 522h0M1095 493h0M1096 488h0M1097 523h0M1097 521h0M1096 475h0M1098 529h0M1098 515h0M1099 492h0M1099 457h0M1098 515h0M1098 487h0M1098 477h0M1099 470h0M1099 498h0M1100 496h0M1100 509h0M1100 478h0M1101 486h0M1100 499h0M1101 468h0M1100 500h0M1100 463h0M1100 511h0M1101 515h0M1102 493h0M1101 507h0M1102 475h0M1102 492h0M1102 508h0M1102 498h0M1103 517h0M1102 496h0M1104 469h0M1103 509h0M1103 521h0M1104 464h0M1105 508h0M1105 469h0M1106 512h0M1106 520h0M1107 464h0M1107 462h0M1106 471h0M1107 465h0M1107 464h0M1108 479h0M1107 530h0M1108 501h0M1109 517h0M1109 469h0M1108 521h0M1108 469h0M1109 496h0M1110 496h0M1110 502h0M1110 483h0M1111 519h0M1111 484h0M1111 523h0M1110 520h0M1113 491h0M1114 526h0M1113 482h0M1113 497h0M1115 474h0M1115 514h0M1114 508h0M1114 460h0M1116 502h0M1115 468h0M1116 517h0M1117 495h0M1118 495h0M1118 519h0M1118 505h0M1119 523h0M1119 524h0M1119 489h0M1119 502h0M1119 531h0M1120 488h0M1121 469h0M1120 499h0M1121 464h0M1121 465h0M1120 501h0M1121 518h0M1121 475h0M1122 511h0M1122 512h0M1124 529h0M1123 527h0M1123 490h0M1125 487h0M1125 472h0M1126 517h0M1125 494h0M1125 489h0M1127 490h0M1126 470h0M1127 485h0M1127 495h0M1127 496h0M1127 505h0M1128 508h0M1128 464h0M1129 488h0M1128 494h0M1129 474h0M1130 459h0M1129 460h0M1131 465h0M1131 529h0M1131 531h0M1131 513h0M1131 498h0M1132 468h0M1131 479h0M1133 517h0M1133 497h0M1133 471h0M1132 532h0M1133 506h0M1133 469h0M1133 519h0M1135 470h0M1135 509h0M1135 519h0M1134 501h0M1135 472h0M1135 474h0M1136 527h0M1136 519h0M1136 510h0M1138 510h0M1137 513h0M1138 495h0M1137 516h0M1137 495h0M1138 470h0M1138 519h0M1139 459h0M1140 487h0M1140 502h0M1141 522h0M1140 478h0M1141 508h0M1140 524h0M1144 497h0M1143 483h0M1144 503h0M1144 521h0M1144 512h0M1146 479h0M1146 509h0M1147 487h0M1146 515h0M1147 488h0M1146 493h0M1148 460h0M1148 502h0M1148 490h0M1147 480h0M1148 465h0M1149 525h0M1149 524h0M1149 472h0M1149 501h0M1148 499h0M1148 474h0M1148 484h0M1150 476h0M1150 461h0M1150 493h0M1151 524h0M1151 504h0M1152 470h0M1152 499h0M1152 505h0M1153 481h0M1152 514h0M1152 492h0M1154 493h0M1155 501h0M1156 494h0M1156 478h0M1155 475h0M1156 509h0M1156 521h0M1157 528h0M1157 487h0M1157 500h0M1158 525h0M1157 486h0M1158 460h0M1159 494h0M1159 465h0M1159 505h0M1160 481h0M1160 485h0M1159 478h0M1160 503h0M1160 466h0M1162 498h0M1163 530h0M1163 460h0M1163 488h0M1163 467h0M1162 487h0M1162 511h0M1164 500h0M1164 466h0M1163 471h0M1164 468h0M1165 471h0M1164 477h0M1165 520h0M1165 466h0M1165 476h0M1165 524h0M1167 469h0M1166 513h0M1166 470h0M1168 510h0M1168 494h0M1167 469h0M1168 490h0M1169 492h0M1168 496h0M1169 463h0M1169 496h0M1170 497h0M1170 527h0M1170 475h0M1169 478h0M1170 527h0M1170 496h0M1169 490h0M1170 520h0M1170 511h0M1171 492h0M1172 467h0M1171 506h0M1172 463h0M1173 479h0M1172 495h0M1172 497h0M1174 519h0M1173 500h0M1174 506h0M1174 523h0M1176 473h0M1177 464h0M1177 459h0M1177 511h0M1178 513h0M1178 531h0M1179 518h0M1178 515h0M1179 467h0M1179 504h0M1179 468h0M1179 513h0M1180 496h0M1181 528h0M1180 524h0M1181 509h0M1180 507h0M1180 518h0M1182 474h0M1182 523h0M1183 464h0M1184 459h0M1183 471h0M1185 484h0M1184 494h0M1186 466h0M1185 502h0M1185 492h0M1186 523h0M1187 520h0M1187 525h0M1188 505h0M1188 514h0M1187 460h0M1188 486h0M1188 489h0M1189 497h0M1189 472h0M1189 518h0M1190 530h0M1189 503h0M1191 478h0M1191 488h0M1191 470h0M1191 460h0M1190 492h0M1191 498h0M1191 479h0M1192 517h0M1192 520h0M1192 509h0M1192 518h0M1193 499h0M1193 476h0M1192 479h0M1193 519h0M1193 480h0M1193 515h0M1194 473h0M1193 478h0M1195 525h0M1194 466h0M1195 502h0M1195 505h0M1194 499h0M1195 472h0M1195 478h0M1195 530h0M1196 468h0M1197 465h0M1196 521h0M1196 471h0M1198 518h0M1198 467h0M1197 472h0M1197 467h0M1198 467h0M1198 491h0M1201 490h0M1200 495h0M1201 496h0M1200 488h0M1201 506h0M1203 528h0M1202 468h0M1204 520h0M1204 461h0M1203 478h0M1204 495h0M1204 507h0M1203 519h0M1204 499h0M1206 494h0M1205 489h0M1206 497h0M1207 490h0M1206 510h0M1206 528h0M1206 522h0M1207 504h0M1208 525h0M1208 502h0M1208 493h0M1209 485h0M1209 460h0M1209 508h0M1208 485h0M1208 484h0M1210 470h0M1211 470h0M1210 529h0M1212 516h0M1212 483h0M1213 497h0M1213 504h0M1213 476h0M1214 517h0M1214 509h0M1216 494h0M1215 464h0M1215 489h0M1216 519h0M1216 522h0M1217 466h0M1217 477h0M1218 521h0M1217 512h0M1219 523h0M1218 512h0M1219 516h0M1219 469h0M1220 526h0M1220 493h0M1222 522h0M1221 468h0M1222 477h0M1221 475h0M1223 487h0M1222 482h0M1223 508h0M1222 531h0M1224 496h0M1223 476h0M1223 516h0M1223 510h0M1224 500h0M1224 466h0M1225 472h0M1226 485h0M1226 504h0M1227 487h0M1227 506h0M1226 523h0M1227 468h0M1228 522h0M1229 476h0M1229 525h0M1229 479h0M1228 502h0M1228 504h0M1229 519h0M1228 529h0M1229 491h0M1229 471h0M1231 530h0M1230 516h0M1231 524h0M1230 476h0M1230 530h0M1232 513h0M1232 468h0M1232 496h0M1233 478h0M1233 503h0M1233 522h0M1232 461h0M1233 487h0M1234 512h0M1235 481h0M1236 523h0M1236 510h0M1236 514h0M1237 493h0M1237 530h0M1236 498h0M1236 464h0M1238 503h0M1238 489h0M1240 500h0M1240 516h0M1239 493h0M1240 510h0M1241 503h0M1241 486h0M1242 464h0M1242 524h0M1242 502h0M1242 479h0M1242 490h0M1243 463h0M1242 487h0M1244 496h0M1244 484h0M1243 503h0M1244 529h0M1245 476h0M1247 481h0M1247 519h0M1248 485h0M1248 469h0M1249 466h0M1250 476h0M1250 525h0M1250 512h0M1250 489h0M1250 509h0M1251 522h0M1252 495h0M1252 502h0M1251 475h0M1253 471h0M1253 460h0M1253 530h0M1253 527h0M1253 482h0M1255 463h0M1255 497h0M1255 484h0M1255 471h0M1255 526h0M1255 525h0M1256 519h0M1256 510h0M1257 529h0M1256 466h0M1258 500h0M1258 496h0M1258 513h0M1258 468h0M1258 494h0M1257 522h0M1257 488h0M1257 502h0M1259 472h0M1259 469h0M1258 524h0M1258 506h0M1261 473h0M1261 486h0M1262 475h0M1262 506h0M1262 490h0M1263 470h0M1263 465h0M1264 474h0M1265 480h0M1264 478h0M1264 525h0M1264 523h0M1266 470h0M1265 519h0M1266 521h0M1266 468h0M1266 523h0M1268 478h0M1267 470h0M1268 481h0M1269 520h0M1270 479h0M1270 480h0M1270 517h0M1270 507h0M1270 473h0M1271 469h0M1270 515h0M1272 497h0M1273 470h0M1274 521h0M1274 469h0M1273 471h0M1275 529h0M1274 477h0M1274 527h0M1276 472h0M1276 510h0M1276 513h0M1277 487h0M1278 516h0M1277 514h0M1278 465h0M1277 475h0M1277 488h0M1278 499h0M1279 529h0M1279 484h0M1278 524h0M1279 463h0M1280 510h0M1280 501h0M1280 517h0M1281 473h0M1280 473h0M1281 527h0M1282 512h0M1282 524h0M1282 508h0M1281 503h0M1281 506h0M1282 470h0M1282 472h0M1282 490h0M1282 462h0M1284 466h0M1283 462h0M1283 483h0M1284 465h0M1285 518h0M1285 476h0M1284 518h0M1284 479h0M1284 504h0M1284 510h0M1284 522h0M1284 518h0M1286 492h0M1286 515h0M1288 491h0M1288 499h0M1288 527h0M1288 467h0M1288 477h0M1288 460h0M1290 514h0M1290 484h0M1290 483h0M1291 475h0M1291 504h0M1292 484h0M1291 471h0M1292 470h0M1291 479h0M1292 477h0M1292 468h0M1292 521h0M1292 463h0M1293 502h0M1293 525h0M1294 521h0M1294 486h0M1294 460h0M1295 498h0M1295 494h0M1296 529h0M1296 518h0M1296 467h0M1297 478h0M1296 465h0M1296 465h0M1297 462h0M1296 526h0M1298 497h0M1299 483h0M1298 509h0M1299 476h0M1298 482h0M1299 475h0M1300 462h0M1301 470h0M1300 524h0M1302 517h0M1302 472h0M1303 479h0M1303 468h0M1303 472h0M1303 494h0M1305 512h0M1305 476h0M1305 462h0M1305 487h0M1306 465h0M1306 474h0M1308 509h0M1307 481h0M1308 487h0M1308 496h0M1309 482h0M1309 488h0M1310 483h0M1311 487h0M1311 493h0M1311 521h0M1314 463h0M1313 522h0M1313 470h0M1315 480h0M1314 517h0M1315 489h0M1314 479h0M1314 498h0M1315 474h0M1316 482h0M1316 510h0M1315 462h0M1315 512h0M1316 483h0M1317 475h0M1317 519h0M1317 513h0M1317 478h0M1318 512h0M1318 495h0M1321 518h0M1320 527h0M1321 497h0M1322 525h0M1321 477h0M1322 468h0M1323 509h0M1323 505h0M1323 474h0M1324 525h0M1325 520h0M1325 487h0M1325 526h0M1325 492h0M1326 464h0M1326 483h0M1326 503h0M1326 497h0M1325 461h0M1325 487h0M1326 477h0M1326 496h0M1326 471h0M1327 487h0M1326 478h0M1327 511h0M1327 468h0M1328 505h0M1328 464h0M1328 464h0M1328 462h0M1328 515h0M1328 497h0M1329 476h0M1329 493h0M1329 515h0M1330 518h0M1330 489h0M1331 489h0M1331 491h0M1332 492h0M1333 461h0M1334 472h0M1334 497h0M1335 469h0M1335 517h0M1335 504h0M1335 480h0M1335 469h0M1336 500h0M1337 479h0M1337 518h0M1337 512h0M1338 461h0M1338 489h0M1338 508h0M1338 526h0M1339 478h0M1338 480h0M1339 475h0M1338 477h0M1340 463h0M1339 474h0M1340 486h0M1341 465h0M1341 491h0M1340 521h0M1340 466h0M1340 513h0M1341 527h0M1343 516h0M1343 504h0M1343 512h0M1345 525h0M1344 474h0M1344 500h0M1346 463h0M1347 477h0M1346 489h0M1347 510h0M1347 509h0M1347 494h0M1348 514h0M1348 485h0M1349 469h0M1349 487h0M1350 494h0M1350 508h0M1350 519h0M1351 524h0M1350 480h0M1350 503h0M1351 500h0M1350 521h0M1350 468h0M1351 514h0M1352 476h0M1353 517h0M1352 465h0M1352 491h0M1353 496h0M1353 487h0M1353 518h0M1353 470h0M1353 485h0M1354 487h0M1354 491h0M1355 506h0M1356 490h0M1357 527h0M1358 518h0M1358 471h0M1359 462h0M1358 505h0M1359 468h0M1359 482h0M1360 525h0M1359 462h0M1360 462h0M1361 493h0M1360 513h0M1362 511h0M1363 501h0M1362 507h0M1362 516h0M1362 463h0M1362 480h0M1362 477h0M1364 489h0M1364 485h0M1365 476h0M1365 462h0M1364 500h0M1366 518h0M1365 513h0M1366 464h0M1366 470h0M1365 525h0M1368 469h0M1367 471h0M1367 523h0M1369 511h0M1369 494h0M1369 474h0M1369 491h0M1369 500h0M1370 495h0M1370 511h0M1371 465h0M1370 519h0M1371 517h0M1370 472h0M1371 468h0M1371 483h0M1372 483h0M1371 492h0M1372 506h0M1372 526h0M1372 475h0M1373 465h0M1373 493h0M1374 519h0M1374 501h0M1375 486h0M1375 484h0M1375 523h0M1377 483h0M1377 471h0M1376 495h0M1376 499h0M1378 473h0M1377 473h0M1377 494h0M1379 492h0M1379 505h0M1380 465h0M1379 509h0M1380 472h0M1381 514h0M1381 517h0M1380 492h0M1381 508h0M1381 526h0M1383 525h0M1382 527h0M1382 464h0M1382 507h0M1382 484h0M1385 464h0M1385 523h0M1385 478h0M1386 475h0M1385 509h0M1385 511h0M1386 466h0M1385 526h0M1387 465h0M1388 494h0M1388 466h0M1389 492h0M1389 512h0M1388 485h0M1389 523h0M1390 488h0M1390 498h0M1390 471h0M1390 482h0M1390 476h0M1390 491h0M1390 471h0M1391 525h0M1392 505h0M1393 466h0M1394 472h0M1394 486h0M1394 494h0M1395 479h0M1395 475h0M1394 497h0M1394 490h0M1396 509h0M1396 517h0M1396 467h0M1395 503h0M1397 509h0M1396 527h0M1397 524h0M1398 492h0M1398 520h0M1397 509h0M1397 500h0M1398 508h0M1397 487h0M1397 478h0M1397 492h0M1397 489h0M1398 504h0M1398 505h0M1399 496h0M1399 477h0M1399 490h0M1399 510h0M1399 514h0M1399 493h0M1400 472h0M1401 462h0M1401 508h0M1402 496h0M1403 513h0M1402 482h0M1403 489h0M1402 491h0M1405 465h0M1404 478h0M1405 486h0M1406 481h0M1407 515h0M1407 519h0M1408 482h0M1407 483h0M1407 492h0M1407 527h0M1409 495h0M1409 502h0M1409 510h0M1408 515h0M1408 521h0M1410 477h0M1411 483h0M1411 467h0M1411 467h0M1412 515h0M1412 510h0M1414 489h0M1414 527h0M1415 502h0M1415 484h0M1414 518h0M1416 510h0M1416 525h0M1416 505h0M1415 481h0M1416 509h0M1417 463h0M1416 468h0M1416 489h0M1417 467h0M1418 523h0M1419 506h0M1419 523h0M1419 495h0M1419 489h0M1421 526h0M1421 494h0M1421 477h0M1420 511h0M1422 472h0M1421 491h0M1421 467h0M1421 493h0M1423 475h0M1422 508h0M1422 502h0M1422 502h0M1422 491h0M1423 475h0M1425 514h0M1425 490h0M1425 481h0M1427 513h0M1427 527h0M1427 503h0M1428 497h0M1428 490h0M1429 491h0M1431 486h0M1431 505h0M1431 475h0M1432 517h0M1433 462h0M1433 474h0M1432 466h0M1433 499h0M1434 488h0M1434 496h0M1434 526h0M1435 466h0M1434 472h0M1435 463h0M1435 494h0M1436 470h0M1435 484h0M1436 525h0M1437 512h0M1437 503h0M1437 508h0M1437 518h0M1439 471h0M1439 527h0M1438 473h0M1439 507h0M1439 475h0M1439 462h0M1440 468h0M1441 497h0M1441 525h0M1441 491h0M1440 515h0M1442 509h0M1442 513h0M1443 474h0M1444 488h0M1443 472h0M1444 520h0M1444 527h0M1444 500h0M1445 517h0M1444 462h0M1445 527h0M1446 495h0M1446 477h0M1446 499h0M1445 463h0M1446 470h0M1446 491h0M1448 504h0M1448 522h0M1449 498h0M1449 520h0M1449 466h0M1449 511h0M1450 528h0M1449 513h0M1449 478h0M1450 489h0M1449 470h0M1451 487h0M1451 478h0M1452 480h0M1451 471h0M1451 491h0M1453 486h0M1453 496h0M1454 512h0M1454 524h0M1454 482h0M1454 471h0M1454 506h0M1454 475h0M1455 476h0M1455 508h0M1455 519h0M1455 466h0M1455 518h0M1456 480h0M1457 465h0M1458 469h0M1457 493h0M1458 525h0M1458 477h0M1459 502h0M1459 527h0M1459 491h0M1460 513h0M1459 475h0M1461 497h0M1460 513h0M1462 508h0M1463 483h0M1463 467h0M1462 523h0M1463 497h0M1464 515h0M1464 512h0M1465 502h0M1464 524h0M1465 463h0M1466 513h0M1465 508h0M1466 518h0M1467 490h0M1467 480h0M1467 482h0M1467 477h0M1470 480h0M1469 476h0M1470 503h0M1471 464h0M1472 472h0M1471 479h0M1471 516h0M1471 487h0M1473 527h0M1472 508h0M1473 510h0M1473 523h0M1474 517h0M1473 464h0M1474 518h0M1474 476h0M1474 478h0M1474 487h0M1474 503h0M1475 473h0M1476 467h0M1475 513h0M1477 476h0M1476 516h0M1476 498h0M1476 525h0M1477 467h0M1477 521h0M1477 518h0M1479 508h0M1478 511h0M1479 470h0M1480 518h0M1482 465h0M1481 483h0M1482 512h0M1483 506h0M1483 471h0M1484 527h0M1484 464h0M1484 478h0M1485 515h0M1485 517h0M1485 481h0M1486 510h0M1486 517h0M1487 486h0M1487 469h0M1488 520h0M1488 478h0M1489 479h0M1489 480h0M1489 482h0M1489 526h0M1489 513h0M1489 502h0M1489 469h0M1490 519h0M1489 513h0M1489 502h0M1490 466h0M1490 521h0M1490 505h0M1491 494h0M1491 467h0M1491 498h0M1492 494h0M1491 468h0M1491 524h0M1491 504h0M1492 523h0M1492 474h0M1492 495h0M1493 518h0M1493 519h0M1494 469h0M1494 513h0M1494 517h0M1495 528h0M1495 470h0M1494 490h0M1494 519h0M1495 465h0M1496 525h0M1496 516h0M1496 500h0M1496 488h0M1496 499h0M1496 499h0M1497 495h0M1496 527h0M1496 482h0M1498 525h0M1498 502h0M1497 495h0M1498 463h0M1498 528h0M1501 478h0M1502 511h0M1502 467h0M1502 484h0M1504 494h0M1505 467h0M1506 466h0M1507 472h0M1507 527h0M1508 495h0M1508 526h0M1508 528h0M1509 493h0M1509 470h0M1508 528h0M1510 473h0M1509 517h0M1509 496h0M1509 475h0M1510 470h0M1511 478h0M1510 489h0M1511 521h0M1511 475h0M1512 472h0M1514 484h0M1516 471h0M1516 485h0M1517 505h0M1517 527h0M1518 501h0M1517 525h0M1517 523h0M1518 516h0M1519 520h0M1518 502h0M1519 507h0M1519 479h0M1519 469h0M1520 471h0M1520 510h0M1521 495h0M1520 490h0M1521 485h0M1520 473h0M1520 510h0M1523 505h0M1522 472h0M1524 475h0M1524 480h0M1524 472h0M1525 506h0M1525 464h0M1524 488h0M1524 484h0M1525 483h0M1525 526h0M1526 490h0M1526 490h0M1527 478h0M1526 469h0M1527 525h0M1527 493h0M1526 481h0M1527 484h0M1527 505h0M1527 479h0M1527 482h0M1528 486h0M1529 525h0M1529 517h0M1528 528h0M1529 492h0M1530 474h0M1529 484h0M1529 471h0M1530 503h0M1530 474h0M1532 517h0M1532 483h0M1533 508h0M1533 510h0M1532 467h0M1533 503h0M1533 522h0M1533 506h0M1534 516h0M1535 492h0M1534 523h0M1536 523h0M1535 503h0M1535 471h0M1536 509h0M1537 466h0M1536 475h0M1536 468h0M1537 483h0M1537 479h0M1538 528h0M1537 494h0M1538 500h0M1538 465h0M1539 466h0M1541 474h0M1541 465h0M1540 489h0M1540 516h0M1542 501h0M1542 514h0M1541 512h0M1541 485h0M1541 479h0M1544 474h0M1543 492h0M1544 518h0M1544 506h0M1545 493h0M1546 470h0M1546 527h0M1546 515h0M1547 518h0M1546 493h0M1546 500h0M1547 513h0M1548 515h0M1549 520h0M1551 511h0M1551 500h0M1550 475h0M1552 472h0M1552 496h0M1553 495h0M1552 499h0M1552 494h0M1553 493h0M1553 476h0M1553 494h0M1554 471h0M1555 491h0M1554 471h0M1555 468h0M1555 476h0M1556 527h0M1557 478h0M1558 492h0M1557 497h0M1557 515h0M1559 465h0M1559 496h0M1559 504h0M1559 484h0M1559 513h0M1560 508h0M1560 520h0M1561 497h0M1563 465h0M1563 478h0M1563 522h0M1565 466h0M1564 524h0M1566 487h0M1565 486h0M1566 502h0M1567 468h0M1566 505h0M1568 489h0M1568 514h0M1567 477h0M1568 514h0M1570 492h0M1569 494h0M1570 485h0M1570 515h0M1570 495h0M1571 517h0M1571 473h0M1571 519h0M1573 478h0M1573 480h0M1573 475h0M1574 527h0M1575 472h0M1574 492h0M1574 479h0M1576 510h0M1576 527h0M1576 472h0M1576 507h0M1576 523h0M1577 520h0M1577 512h0M1578 489h0M1577 525h0M1577 479h0M1578 517h0M1578 512h0M1579 523h0M1579 486h0M1579 499h0M1579 482h0M1580 527h0M1580 485h0M1580 470h0M1580 525h0M1582 524h0M1583 483h0M1583 521h0M1582 526h0M1582 519h0M1583 514h0M1583 497h0M1584 485h0M1584 516h0M1585 475h0M1585 479h0M1585 511h0M1586 470h0M1586 469h0M1586 513h0M1587 491h0M1586 507h0M1588 521h0M1589 476h0M1590 508h0M1590 494h0M1589 506h0M1589 526h0M1589 512h0M1591 511h0M1591 515h0M1590 512h0M1590 528h0M1591 511h0M1591 499h0M1593 502h0M1592 513h0M1592 508h0M1592 489h0M1593 527h0M1593 468h0M1593 479h0M1593 490h0M1594 489h0M1595 495h0M1595 469h0M1595 501h0M1596 514h0M1596 474h0M1596 501h0M1598 487h0M1598 519h0M1599 515h0M1600 498h0M1600 513h0M1601 513h0M1601 483h0M1601 477h0M1602 512h0M1602 514h0M1603 496h0M1604 517h0M1603 479h0M1604 491h0M1604 469h0M1604 503h0M1604 494h0M1605 512h0M1605 504h0M1605 486h0M1606 495h0M1606 496h0M1606 497h0M1607 490h0M1606 513h0M1606 490h0M1608 502h0M1608 524h0M1608 467h0M1610 498h0M1609 510h0M1609 491h0M1610 467h0M1610 521h0M1611 509h0M1611 469h0M1611 522h0M1610 466h0M1612 507h0M1612 526h0M1612 524h0M1612 506h0M1614 505h0M1613 513h0M1613 477h0M1613 510h0M1615 479h0M1615 501h0M1616 487h0M1617 510h0M1617 497h0M1619 525h0M1619 490h0M1620 474h0M1620 512h0M1620 525h0M1621 503h0M1622 494h0M1622 517h0M1622 524h0M1622 508h0M1622 470h0M1623 523h0M1623 514h0M1624 524h0M1624 478h0M1625 492h0M1626 517h0M1626 511h0M1628 504h0M1628 475h0M1627 520h0M1629 528h0M1629 506h0M1629 516h0M1628 479h0M1628 499h0M1628 517h0M1628 506h0M1630 481h0M1630 488h0M1631 470h0M1631 474h0M1632 482h0M1631 493h0M1632 469h0M1633 467h0M1633 489h0M1634 467h0M1633 500h0M1634 520h0M1634 483h0M1636 497h0M1636 518h0M1635 494h0M1635 527h0M1636 487h0M1637 470h0M1637 493h0M1638 512h0M1637 476h0M1638 505h0M1639 524h0M1641 504h0M1641 527h0M1641 478h0M1642 510h0M1641 487h0M1641 488h0M1641 471h0M1643 496h0M1643 492h0M1643 488h0M1643 468h0M1645 511h0M1645 526h0M1646 472h0M1648 473h0M1648 525h0M1648 501h0M1650 477h0M1649 500h0M1650 490h0M1651 485h0M1651 480h0M1653 512h0M1652 480h0M1654 476h0M1655 485h0M1655 495h0M1655 484h0M1656 486h0M1656 473h0M1656 470h0M1656 501h0M1656 493h0M1657 496h0M1658 517h0M1658 527h0M1659 484h0M1659 470h0M1660 509h0M1659 525h0M1660 525h0M1661 495h0M1660 502h0M1662 526h0M1663 520h0M1662 513h0M1662 521h0M1663 504h0M1663 471h0M1663 517h0M1664 507h0M1665 499h0M1665 494h0M1666 524h0M1665 500h0M1666 516h0M1667 496h0M1667 494h0M1667 517h0M1667 481h0M1667 499h0M1667 516h0M1668 478h0M1668 494h0M1669 485h0M1669 468h0M1670 513h0M1670 523h0M1670 482h0M1670 504h0M1672 512h0M1672 522h0M1671 512h0M1671 504h0M1671 497h0M1672 496h0M1672 499h0M1673 474h0M1673 514h0M1674 489h0M1675 513h0M1674 515h0M1675 494h0M1676 469h0M1677 491h0M1677 491h0M1677 496h0M1676 497h0M1677 517h0M1677 519h0M1677 497h0M1678 518h0M1678 499h0M1679 470h0M1679 527h0M1679 509h0M1678 469h0M1679 507h0M1681 508h0M1680 480h0M1682 481h0M1682 492h0M1683 511h0M1682 476h0M1683 522h0M1683 475h0M1685 479h0M1685 518h0M1687 478h0M1687 521h0M1688 479h0M1688 525h0M1688 483h0M1688 514h0M1688 488h0M1689 495h0M1691 501h0M1691 521h0M1692 507h0M1691 484h0M1693 481h0M1693 510h0M1695 503h0M1694 510h0M1694 516h0M1697 525h0M1697 469h0M1696 488h0M1696 524h0M1697 486h0M1697 512h0M1698 504h0M1698 502h0M1700 522h0M1700 496h0M1700 496h0M1700 518h0M1702 470h0M1702 480h0M1703 477h0M1703 482h0M1703 518h0M1703 475h0M1703 479h0M1702 520h0M1703 486h0M1704 501h0M1703 522h0M1703 496h0M1704 475h0M1705 527h0M1706 505h0M1705 479h0M1706 504h0M1707 477h0M1707 483h0M1708 471h0M1708 481h0M1710 472h0M1709 482h0M1710 524h0M1709 491h0M1710 524h0M1712 525h0M1711 493h0M1712 482h0M1713 482h0M1714 494h0M1713 494h0M1715 509h0M1714 515h0M1714 503h0M1717 490h0M1717 525h0M1718 508h0M1719 499h0M1719 480h0M1719 482h0M1720 510h0M1720 523h0M1721 495h0M1721 481h0M1722 495h0M1723 503h0M1723 476h0M1722 527h0M1722 474h0M1722 511h0M1723 517h0M1724 524h0M1724 518h0M1725 483h0M1725 517h0M1727 497h0M1726 503h0M1727 527h0M1727 471h0M1728 498h0M1728 470h0M1729 519h0M1728 524h0M1728 509h0M1728 473h0M1730 513h0M1729 512h0M1730 510h0M1731 500h0M1732 502h0M1731 497h0M1733 527h0M1733 471h0M1732 482h0M1732 493h0M1733 507h0M1734 483h0M1734 487h0M1735 472h0M1734 513h0M1736 499h0M1736 501h0M1736 488h0M1737 496h0M1739 508h0M1739 476h0M1738 470h0M1740 514h0M1740 472h0M1740 493h0M1741 477h0M1742 482h0M1741 510h0M1743 514h0M1743 520h0M1744 499h0M1743 501h0M1744 517h0M1745 485h0M1745 514h0M1744 482h0M1745 521h0M1746 480h0M1746 502h0M1746 512h0M1747 504h0M1748 522h0M1747 494h0M1748 475h0M1749 525h0M1748 517h0M1749 481h0M1749 504h0M1751 472h0M1752 506h0M1751 515h0M1751 484h0M1753 490h0M1754 519h0M1753 526h0M1754 473h0M1754 502h0M1755 518h0M1756 505h0M1756 496h0M1757 528h0M1758 527h0M1759 496h0M1760 506h0M1760 511h0M1761 511h0M1761 520h0M1762 518h0M1762 480h0M1764 473h0M1764 508h0M1764 483h0M1764 480h0M1765 523h0M1765 497h0M1766 515h0M1766 509h0M1766 470h0M1767 486h0M1767 489h0M1766 524h0M1767 493h0M1767 518h0M1768 510h0M1767 484h0M1769 472h0M1769 497h0M1769 519h0M1769 474h0M1770 524h0M1770 527h0M1771 469h0M1771 496h0M1771 502h0M1771 495h0M1771 484h0M1773 502h0M1773 507h0M1774 478h0M1776 476h0M1776 522h0M1775 518h0M1776 494h0M1777 520h0M1777 524h0M1777 486h0M1779 498h0M1780 506h0M1779 505h0M1780 492h0M1781 480h0M1782 521h0M1781 517h0M1781 516h0M1783 471h0M1783 508h0M1783 496h0M1782 503h0M1784 512h0M1784 513h0M1785 494h0M1786 471h0M1786 480h0M1786 494h0M1788 519h0M1788 513h0M1787 472h0M1788 484h0M1789 504h0M1789 508h0M1791 510h0M1790 493h0M1792 484h0M1793 504h0M1795 525h0M1797 484h0M1798 493h0M1800 490h0M1799 476h0M1800 495h0M1801 517h0M1800 498h0M1802 505h0M1802 488h0M1802 524h0M1804 517h0M1805 505h0M1804 503h0M1806 525h0M1806 486h0M1807 475h0M1807 504h0M1809 480h0M1809 483h0M1808 498h0M1809 509h0M1809 493h0M1810 470h0M1811 476h0M1811 512h0M1811 525h0M1811 515h0M1813 476h0M1813 493h0M1813 510h0M1813 490h0M1815 509h0M1815 481h0M1816 509h0M1817 486h0M1816 491h0M1817 490h0M1818 499h0M1818 477h0M1818 471h0M1820 511h0M1819 485h0M1820 488h0M1821 499h0M1820 516h0M1822 518h0M1822 479h0M1821 500h0M1822 491h0M1823 511h0M1824 522h0M1824 497h0M1824 506h0M1825 515h0M1825 470h0M1827 525h0M1828 480h0M1828 471h0M1828 503h0M1828 495h0M1828 503h0M1828 496h0M1830 493h0M1830 516h0M1831 518h0M1831 501h0M1831 491h0M1833 476h0M1833 495h0M1834 494h0M1836 503h0M1835 470h0M1837 503h0M1836 504h0M1838 492h0M1837 511h0M1839 520h0M1840 470h0M1840 489h0M1840 513h0M1840 516h0M1841 492h0M1840 480h0M1840 516h0M1841 492h0M1840 471h0M1842 491h0M1843 527h0M1844 519h0M1846 520h0M1846 474h0M1847 526h0M1848 525h0M1848 503h0M1849 502h0M1849 511h0M1850 495h0M1851 513h0M1850 487h0M1851 509h0M1852 521h0M1851 513h0M1852 494h0M1853 524h0M1852 502h0M1853 523h0M1853 480h0M1854 486h0M1856 527h0M1856 518h0M1857 506h0M1857 478h0M1858 516h0M1857 506h0M1859 488h0M1859 504h0M1861 524h0M1861 496h0M1861 482h0M1863 475h0M1863 495h0M1862 505h0M1864 526h0M1863 500h0M1864 491h0M1865 527h0M1865 479h0M1866 509h0M1866 503h0M1868 526h0M1870 487h0M1874 503h0M1874 501h0M1874 494h0M1874 515h0M1875 499h0M1875 494h0M1876 503h0M1876 508h0M1878 526h0M1879 505h0M1878 500h0M1880 522h0M1881 528h0M1880 507h0M1881 507h0M1883 504h0M1882 493h0M1883 490h0M1883 479h0M1883 476h0M1883 523h0M1884 520h0M1885 472h0M1884 480h0M1888 478h0M1888 474h0M1890 501h0M1891 488h0M1891 490h0M1891 497h0M1893 489h0M1893 518h0M1894 495h0M1894 506h0M1894 520h0M1895 503h0M1896 483h0M1897 504h0M1897 491h0M1898 480h0M1898 474h0M1899 500h0M1900 475h0M1901 510h0M1900 524h0M1900 487h0M1902 501h0M1903 486h0M1904 489h0M1903 472h0M1905 525h0M1904 479h0M1905 479h0M1906 511h0M1906 489h0M1908 480h0M1909 486h0M1910 503h0M1911 482h0M1913 521h0M1912 500h0M1914 515h0M1913 475h0M1913 500h0M1914 485h0M1914 506h0M1914 484h0M1915 488h0M1916 481h0M1917 506h0M1918 488h0M1920 517h0M1921 522h0M1920 510h0M1922 520h0M1922 523h0M1922 487h0M1925 501h0M1925 481h0M1924 526h0M1925 525h0M1927 520h0M1928 501h0M1928 508h0M1929 472h0M1930 515h0M1930 489h0M1932 516h0M1933 478h0M1936 479h0M1935 474h0M1937 472h0M1937 484h0M1937 475h0M1937 492h0M1939 495h0M1939 501h0M1938 488h0M1939 481h0M1939 517h0M1939 478h0M1940 493h0M1942 496h0M1945 516h0M1945 485h0M1946 515h0M1948 526h0M1948 513h0M1948 489h0M1948 479h0M1948 497h0M1951 472h0M1952 525h0M1953 475h0M1953 489h0M1953 491h0M1954 516h0M1956 475h0M1957 508h0M1959 521h0M1959 524h0M1960 494h0M1961 519h0M1963 474h0M1964 495h0M1964 514h0M1966 521h0M1967 495h0M1966 472h0M1966 514h0M1967 497h0M1969 521h0M1970 507h0M1970 497h0M1970 518h0M1971 493h0M1973 476h0M1974 499h0M1974 498h0M1974 489h0M1976 506h0M1977 478h0M1977 487h0M1979 513h0M1979 493h0M1982 515h0M1983 476h0M1984 476h0M1984 512h0M1985 499h0M1985 479h0M1986 476h0M1986 491h0M1987 526h0M1987 473h0M1989 472h0M1988 488h0M1990 501h0M1991 520h0M1992 527h0M1992 482h0M1992 488h0M1994 475h0M1995 489h0M1997 473h0M1996 508h0M1998 518h0M1999 495h0M1999 498h0M1999 516h0M2000 523h0M2000 513h0M2002 505h0M2003 490h0M2003 476h0M2002 485h0M2004 516h0M2007 527h0M2006 491h0M2006 517h0M2006 508h0M2007 486h0M2007 509h0M2008 517h0M2008 474h0M2007 505h0M2008 474h0M2007 504h0M2008 528h0M2010 484h0M2009 489h0M2011 513h0M2014 495h0M2014 481h0M2016 508h0M2017 485h0M2017 502h0M2018 487h0M2019 495h0M2020 474h0M2020 505h0M2020 509h0M2021 517h0M2022 475h0M2022 512h0M2022 478h0M2025 476h0M2027 519h0M2028 492h0M2029 500h0M2029 514h0M2030 480h0M2030 488h0M2032 510h0M2033 520h0M2034 475h0M2034 479h0M2035 509h0M2036 476h0M2036 526h0M2035 475h0M2036 502h0M2037 482h0M2037 507h0M2038 485h0M2037 511h0M2039 517h0M2040 474h0M2041 500h0M2045 517h0M2046 476h0M2045 489h0M2045 485h0M2047 505h0M2047 486h0M2047 481h0M2048 486h0M2048 505h0M2049 478h0M2050 506h0M2049 484h0M2051 473h0M2051 519h0M2052 477h0M2056 490h0M2056 489h0M2057 496h0M2060 484h0M2059 501h0M2060 482h0M2062 481h0M2063 521h0M2063 499h0M2063 518h0M2063 526h0M2066 516h0M2067 499h0M2067 474h0M2069 477h0M2069 523h0M2070 522h0M2070 512h0M2071 496h0M2072 495h0M2072 495h0M2075 512h0M2074 522h0M2075 477h0M2077 512h0M2078 478h0M2078 494h0M2079 488h0M2080 484h0M2081 508h0M2082 474h0M2084 517h0M2084 478h0M2085 478h0M2087 497h0M2087 506h0M2088 523h0M2089 477h0M2089 474h0M2090 517h0M2091 485h0M2091 494h0M2092 483h0M2093 497h0M2095 505h0M2095 519h0M2100 513h0M2100 514h0M2100 500h0M2101 486h0M2101 511h0M2101 517h0M2103 477h0M2102 516h0M2104 511h0M2105 475h0M2105 526h0M2104 483h0M2105 499h0M2107 506h0M2107 502h0M2108 506h0M2109 488h0M2110 513h0M2112 504h0M2113 496h0M2113 520h0M2114 480h0M2114 514h0M2116 503h0M2116 482h0M2116 509h0M2116 511h0M2117 518h0M2123 478h0M2123 483h0M2125 509h0M2126 476h0M2127 523h0M2131 513h0M2131 487h0M2132 486h0M2138 523h0M2138 478h0M2141 513h0M2141 502h0M2143 517h0M2144 515h0M2152 505h0M2152 522h0M2154 489h0M2154 490h0M2155 479h0M2156 520h0M2159 522h0M2160 476h0M2162 503h0M2163 527h0M2164 521h0M2165 523h0M2165 513h0M2166 479h0M2170 520h0M2170 513h0M2173 494h0M2175 501h0M2175 493h0M2176 500h0M2175 483h0M2177 523h0M2177 483h0M2180 525h0M2181 498h0M2182 504h0M2185 484h0M2186 523h0M2188 522h0M2189 502h0M2190 489h0M2192 489h0M2194 492h0M2196 516h0M2195 523h0M2197 493h0M2199 506h0M2201 484h0M2202 498h0M2203 499h0M2204 517h0M2204 499h0M2205 523h0M2207 491h0M2208 490h0M2209 508h0M2211 477h0M2210 502h0M2211 507h0M2211 505h0M2212 508h0M2212 489h0M2215 518h0M2214 522h0M2216 491h0M2219 525h0M2220 477h0M2222 477h0M2223 497h0M2223 481h0M2224 485h0M2224 503h0M2224 516h0M2230 485h0M2230 515h0M2234 516h0M2233 509h0M2234 483h0M2237 505h0M2239 511h0M2240 522h0M2241 485h0M2249 488h0M2254 521h0M2256 480h0M2257 497h0M2257 487h0M2257 481h0M2258 481h0M2259 509h0M2259 493h0M2265 494h0M2267 493h0M2267 513h0M2269 512h0M2271 488h0M2273 484h0M2274 482h0M2275 491h0M2275 526h0M2275 520h0M2280 501h0M2281 485h0M2282 505h0M2284 522h0M2285 490h0M366 598h0M387 598h0M395 587h0M365 566h0M381 571h0M365 597h0M385 597h0M400 585h0M366 565h0M382 569h0M397 567h0M365 500h0M2258 494h0M2261 500h0M2258 508h0M2262 495h0M2262 507h0"/>
</g>
<polygon points="1169.4,531.1 1175.2,545.6 1190.8,546.6 1178.8,556.7 1182.6,571.8 1169.4,563.5 1156.2,571.8 1160.0,556.7 1148.0,546.6 1163.6,545.6" fill="#ff0000"/>
<rect x="1168.5" y="997.5" width="6" height="6" fill="#0000ff"/>
<rect x="384.8" y="34.3" width="6.2" height="3.8" fill="#333"/>
</g>
<g>
<rect x="253.2" y="43.3" width="4.1" height="1556.7" fill="#eee"/>
<rect x="257.3" y="39.4" width="2013.5" height="3.9" fill="#f0f0f0"/>
<rect x="257.3" y="1600" width="2013.5" height="4" fill="#f6f6f6"/>
<rect x="2270.8" y="43.3" width="4" height="1556.7" fill="#fafafa"/>
<rect x="261" y="47" width="4.2" height="1549.2" fill="#000" fill-opacity="0.2"/>
<rect x="261" y="47" width="2006" height="4.2" fill="#ccc"/>
<rect x="261" y="1592" width="2006" height="4.2" fill="#bcbcbc"/>
<rect x="2262.8" y="47" width="4.2" height="1549.2" fill="#000" fill-opacity="0.37"/>
<rect x="588.3" y="1579" width="4.3" height="17.2" fill="#cccccc"/>
<rect x="588.3" y="47" width="4.3" height="17.2" fill="#cccccc"/>
<rect x="592.6" y="1579" width="4.4" height="17.2" fill="#999999"/>
<rect x="592.6" y="47" width="4.4" height="17.2" fill="#999999"/>
<rect x="588.3" y="1574.6" width="8.7" height="4.4" fill="#e4e4e4"/>
<rect x="588.3" y="64.2" width="8.7" height="4.4" fill="#ededed"/>
<rect x="924.0" y="1579" width="4.2" height="17.2" fill="#f5f5f5"/>
<rect x="924.0" y="47" width="4.2" height="17.2" fill="#f5f5f5"/>
<rect x="928.2" y="1579" width="4.5" height="17.2" fill="#7a7a7a"/>
<rect x="928.2" y="47" width="4.5" height="17.2" fill="#7a7a7a"/>
<rect x="928.2" y="1574.6" width="4.5" height="4.4" fill="#e4e4e4"/>
<rect x="928.2" y="64.2" width="4.5" height="4.4" fill="#ededed"/>
<rect x="1260.0" y="1579" width="4.0" height="17.2" fill="#a0a0a0"/>
<rect x="1260.0" y="47" width="4.0" height="17.2" fill="#a0a0a0"/>
<rect x="1264.0" y="1579" width="3.9" height="17.2" fill="#c8c8c8"/>
<rect x="1264.0" y="47" width="3.9" height="17.2" fill="#c8c8c8"/>
<rect x="1260.0" y="1574.6" width="7.9" height="4.4" fill="#e4e4e4"/>
<rect x="1260.0" y="64.2" width="7.9" height="4.4" fill="#ededed"/>
<rect x="1595.4" y="1579" width="4.3" height="17.2" fill="#7d7d7d"/>
<rect x="1595.4" y="47" width="4.3" height="17.2" fill="#7d7d7d"/>
<rect x="1595.4" y="1574.6" width="4.3" height="4.4" fill="#e4e4e4"/>
<rect x="1595.4" y="64.2" width="4.3" height="4.4" fill="#ededed"/>
<rect x="1931.1" y="1579" width="4.4" height="17.2" fill="#808080"/>
<rect x="1931.1" y="47" width="4.4" height="17.2" fill="#808080"/>
<rect x="1935.5" y="1579" width="4.2" height="17.2" fill="#f0f0f0"/>
<rect x="1935.5" y="47" width="4.2" height="17.2" fill="#f0f0f0"/>
<rect x="1931.1" y="1574.6" width="4.4" height="4.4" fill="#e4e4e4"/>
<rect x="1931.1" y="64.2" width="4.4" height="4.4" fill="#ededed"/>
<rect x="261" y="301.1" width="17.2" height="4.2" fill="#7a7a7a"/>
<rect x="278.2" y="301.1" width="4.3" height="4.2" fill="#ececec"/>
<rect x="265.2" y="305.3" width="13" height="4.3" fill="#ececec"/>
<rect x="2249.9" y="301.1" width="17.2" height="4.2" fill="#868686"/>
<rect x="2245.6" y="301.1" width="4.3" height="4.2" fill="#dcdcdc"/>
<rect x="2249.9" y="305.3" width="13" height="4.3" fill="#e8e8e8"/>
<rect x="261" y="731.1" width="17.2" height="4.5" fill="#7a7a7a"/>
<rect x="278.2" y="731.1" width="4.3" height="4.5" fill="#ececec"/>
<rect x="265.2" y="735.6" width="13" height="4.3" fill="#ececec"/>
<rect x="2249.9" y="731.1" width="17.2" height="4.5" fill="#868686"/>
<rect x="2245.6" y="731.1" width="4.3" height="4.5" fill="#dcdcdc"/>
<rect x="2249.9" y="735.6" width="13" height="4.3" fill="#e8e8e8"/>
<rect x="261" y="1166.0" width="17.2" height="3.9" fill="#7a7a7a"/>
<rect x="278.2" y="1166.0" width="4.3" height="3.9" fill="#ececec"/>
<rect x="265.2" y="1161.7" width="13" height="4.3" fill="#ececec"/>
<rect x="2249.9" y="1166.0" width="17.2" height="3.9" fill="#868686"/>
<rect x="2245.6" y="1166.0" width="4.3" height="3.9" fill="#dcdcdc"/>
<rect x="2249.9" y="1161.7" width="13" height="4.3" fill="#e8e8e8"/>
<rect x="257.3" y="43.3" width="3.7" height="1556.7" fill="#2e2e2e"/>
<rect x="257.3" y="43.3" width="2013.5" height="3.7" fill="#2e2e2e"/>
<rect x="257.3" y="1596.2" width="2013.5" height="3.8" fill="#383838"/>
<rect x="2267" y="43.3" width="3.8" height="1556.7" fill="#4d4d4d"/>
</g>
<g filter="url(#b)">
<g font-family="'DejaVu Sans', 'Liberation Sans', sans-serif" font-size="52.3" fill="#1c1c1c">
<text x="259.0" y="1653.8" text-anchor="middle">0</text>
<text x="593.2" y="1653.8" text-anchor="middle">100</text>
<text x="926.3" y="1653.8" text-anchor="middle">200</text>
<text x="1259.5" y="1653.8" text-anchor="middle">300</text>
<text x="1595.5" y="1653.8" text-anchor="middle">400</text>
<text x="1929.2" y="1653.8" text-anchor="middle">500</text>
<text x="2263.9" y="1653.8" text-anchor="middle">600</text>
<text x="243.3" y="322.3" text-anchor="end">1.0</text>
<text x="243.3" y="752.3" text-anchor="end">0.5</text>
<text x="243.3" y="1184.8" text-anchor="end">0.0</text>
<text x="243.3" y="1615.3" text-anchor="end">−0.5</text>
</g>
<g font-family="'DejaVu Sans', 'Liberation Sans', sans-serif" font-size="65.3" fill="#1c1c1c">
<text transform="translate(1264,1722) scale(1,0.965)" text-anchor="middle">Protein Size (Residues)</text>
<text transform="translate(86.8,818) rotate(-90) scale(1,0.965)" text-anchor="middle">Normalized QMEAN4 Score</text>
<text transform="translate(1737.2,1247.2) scale(1.00,0.965)">|Z-score|&gt;2</text>
<text transform="translate(1739.2,1344.9) scale(0.99,0.965)">1&lt;|Z-score|&lt;2</text>
<text transform="translate(1737.2,1440.5) scale(1.00,0.965)">|Z-score|&lt;1</text>
<text transform="translate(1742.6,1537.6) scale(1.00,0.965)">model</text>
</g>
<circle cx="1632.3" cy="1225.5" r="15.3" fill="#cbcbcb"/>
<circle cx="1632.3" cy="1322.5" r="15.3" fill="#9a9a9a"/>
<circle cx="1632.3" cy="1419.7" r="15.3" fill="#4c4c4c"/>
<polygon points="1632.5,1477.0 1642.1,1503.7 1670.5,1504.6 1648.1,1522.1 1656.0,1549.4 1632.5,1533.4 1609.0,1549.4 1616.9,1522.1 1594.5,1504.6 1622.9,1503.7" fill="#ff0000"/>
<g font-family="Carlito, 'Liberation Sans', sans-serif" font-size="62.5" fill="#000">
<text transform="translate(423.5,1191.0) scale(1.112,1)" textLength="567.9" lengthAdjust="spacingAndGlyphs" font-weight="bold">Z-score QMEAN: -1.64</text>
<text transform="translate(423.5,1272.3) scale(1.112,1)" textLength="504.4" lengthAdjust="spacingAndGlyphs">Z-score Cbeta: -0.51</text>
<text transform="translate(423.5,1358.6) scale(1.112,1)" textLength="579.7" lengthAdjust="spacingAndGlyphs">Z-score all_atom: -0.01</text>
<text transform="translate(423.5,1440.6) scale(1.112,1)" textLength="586.4" lengthAdjust="spacingAndGlyphs">Z-score solvation: -0.11</text>
<text transform="translate(423.5,1526.2) scale(1.112,1)" textLength="535.9" lengthAdjust="spacingAndGlyphs">Z-score torsion: -1.58</text>
</g>
</g>
</svg>
</body>
</html>
